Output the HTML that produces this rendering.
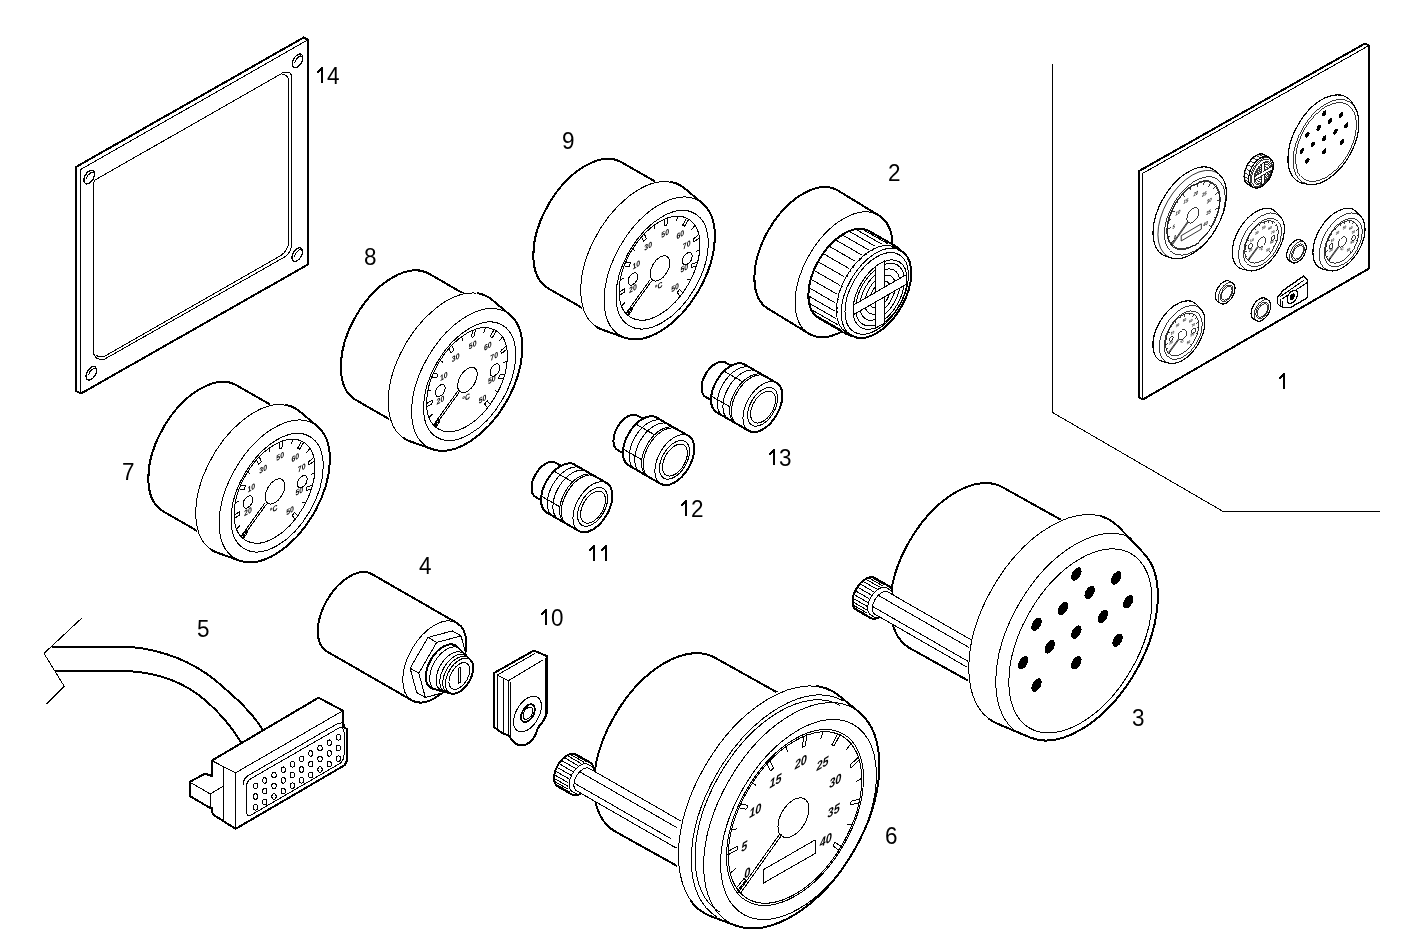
<!DOCTYPE html>
<html><head><meta charset="utf-8"><style>
html,body{margin:0;padding:0;background:#fff;}
svg{display:block;font-family:"Liberation Sans",sans-serif;}
path,circle,line,rect,ellipse{shape-rendering:crispEdges;}
text{-webkit-font-smoothing:antialiased;}
svg{will-change:transform;}
</style></head><body>
<svg width="1418" height="945" viewBox="0 0 1418 945">
<path d="M76,167 L303.8,37.4 L308,39.8 L308,264.5 L81,393.5 L76,391 Z" fill="#fff" stroke="#000" stroke-width="2" stroke-linejoin="round" vector-effect="non-scaling-stroke" />
<path d="M80.4,169.6 L308,39.8 M80.4,169.6 L80.4,393" fill="none" stroke="#000" stroke-width="1" stroke-linejoin="round" vector-effect="non-scaling-stroke" />
<path d="M93.5,352.5 L93.5,184 Q93.6,180 97.9,178.4 L281.1,73.8 Q282,72.2 284,72.2 L288.5,72.2 Q291.5,73 291.5,77 L291.5,245.4 Q291.2,252.5 283.8,257.5 L104.5,359.2 Q98,360 96,357.5 Q93.5,355 93.5,352.5 Z" fill="none" stroke="#000" stroke-width="1" stroke-linejoin="round" vector-effect="non-scaling-stroke" />
<path d="M281.1,73.8 Q287,74.5 288.6,79 L288.6,242.6 Q288,250 281.3,255.3 L104.5,356.3 Q99,357.5 96.5,355.5" fill="none" stroke="#000" stroke-width="1" stroke-linejoin="round" vector-effect="non-scaling-stroke" />
<g transform="matrix(0.87,-0.5,0,1,297.6,60.8)">
<circle cx="0" cy="0" r="6.1" fill="none" stroke="#000" stroke-width="1.3" vector-effect="non-scaling-stroke" />
<path d="M-3.1,-0.11 A5,5 0 0 1 5.93,-0.9" fill="none" stroke="#000" stroke-width="1" stroke-linecap="round" vector-effect="non-scaling-stroke"/>
</g>
<g transform="matrix(0.87,-0.5,0,1,89.2,177.1)">
<circle cx="0" cy="0" r="6.1" fill="none" stroke="#000" stroke-width="1.3" vector-effect="non-scaling-stroke" />
<path d="M-3.1,-0.11 A5,5 0 0 1 5.93,-0.9" fill="none" stroke="#000" stroke-width="1" stroke-linecap="round" vector-effect="non-scaling-stroke"/>
</g>
<g transform="matrix(0.87,-0.5,0,1,297.2,254.6)">
<circle cx="0" cy="0" r="6.1" fill="none" stroke="#000" stroke-width="1.3" vector-effect="non-scaling-stroke" />
<path d="M-3.1,-0.11 A5,5 0 0 1 5.93,-0.9" fill="none" stroke="#000" stroke-width="1" stroke-linecap="round" vector-effect="non-scaling-stroke"/>
</g>
<g transform="matrix(0.87,-0.5,0,1,91.3,373.3)">
<circle cx="0" cy="0" r="6.1" fill="none" stroke="#000" stroke-width="1.3" vector-effect="non-scaling-stroke" />
<path d="M-3.1,-0.11 A5,5 0 0 1 5.93,-0.9" fill="none" stroke="#000" stroke-width="1" stroke-linecap="round" vector-effect="non-scaling-stroke"/>
</g>
<g transform="matrix(0.87,-0.5,0,1,659.5,268.2)">
<path d="M-43.93,-128.07 A59.5,59.5 0 0 0 -128.07,-43.93 L-65.47,18.67 A59.5,59.5 0 1 0 18.67,-65.47 Z" fill="#fff" stroke="#000" stroke-width="2" stroke-linejoin="round" vector-effect="non-scaling-stroke"/>
<path d="M28.8,-65.56 A67.1,67.1 0 1 0 -65.56,28.8 L-39.96,49.48 A63.6,63.6 0 0 0 49.48,-39.96 Z" fill="#fff" stroke="#000" stroke-width="2" stroke-linejoin="round" vector-effect="non-scaling-stroke"/>
<path d="M-74.8,19.73 A67.1,67.1 0 0 1 10.15,-81.51" fill="none" stroke="#fff" stroke-width="2.6" stroke-linecap="round" vector-effect="non-scaling-stroke"/>
<path d="M-70.85,24.05 A67.1,67.1 0 0 1 10.15,-81.51" fill="none" stroke="#000" stroke-width="1" stroke-linecap="round" vector-effect="non-scaling-stroke"/>
<circle cx="0" cy="0" r="63.6" fill="none" stroke="#000" stroke-width="1" vector-effect="non-scaling-stroke" />
<circle cx="3" cy="3" r="53" fill="none" stroke="#000" stroke-width="1" vector-effect="non-scaling-stroke" />
<circle cx="0" cy="0" r="46.5" fill="none" stroke="#000" stroke-width="1" vector-effect="non-scaling-stroke" />
<line x1="-35.88" y1="29.58" x2="-30.77" y2="25.56" stroke="#000" stroke-width="1" vector-effect="non-scaling-stroke"/>
<line x1="-38.04" y1="26.74" x2="-32.81" y2="22.87" stroke="#000" stroke-width="1" vector-effect="non-scaling-stroke"/>
<line x1="-30.78" y1="25.55" x2="-32.81" y2="22.89" stroke="#000" stroke-width="1" vector-effect="non-scaling-stroke"/>
<line x1="-43.65" y1="16.02" x2="-39.43" y2="14.47" stroke="#000" stroke-width="1" vector-effect="non-scaling-stroke"/>
<line x1="-46.31" y1="4.21" x2="-39.82" y2="3.78" stroke="#000" stroke-width="1" vector-effect="non-scaling-stroke"/>
<line x1="-46.5" y1="0.65" x2="-40" y2="0.4" stroke="#000" stroke-width="1" vector-effect="non-scaling-stroke"/>
<line x1="-39.82" y1="3.76" x2="-40" y2="0.42" stroke="#000" stroke-width="1" vector-effect="non-scaling-stroke"/>
<line x1="-45.09" y1="-11.37" x2="-40.73" y2="-10.27" stroke="#000" stroke-width="1" vector-effect="non-scaling-stroke"/>
<line x1="-40.63" y1="-22.61" x2="-35.03" y2="-19.32" stroke="#000" stroke-width="1" vector-effect="non-scaling-stroke"/>
<line x1="-38.78" y1="-25.67" x2="-33.27" y2="-22.21" stroke="#000" stroke-width="1" vector-effect="non-scaling-stroke"/>
<line x1="-35.02" y1="-19.33" x2="-33.28" y2="-22.19" stroke="#000" stroke-width="1" vector-effect="non-scaling-stroke"/>
<line x1="-30.84" y1="-34.8" x2="-27.86" y2="-31.43" stroke="#000" stroke-width="1" vector-effect="non-scaling-stroke"/>
<line x1="-20.82" y1="-41.58" x2="-18.05" y2="-35.7" stroke="#000" stroke-width="1" vector-effect="non-scaling-stroke"/>
<line x1="-17.57" y1="-43.05" x2="-14.97" y2="-37.09" stroke="#000" stroke-width="1" vector-effect="non-scaling-stroke"/>
<line x1="-18.04" y1="-35.7" x2="-14.98" y2="-37.09" stroke="#000" stroke-width="1" vector-effect="non-scaling-stroke"/>
<line x1="-5.87" y1="-46.13" x2="-5.3" y2="-41.66" stroke="#000" stroke-width="1" vector-effect="non-scaling-stroke"/>
<line x1="6.23" y1="-46.08" x2="5.21" y2="-39.66" stroke="#000" stroke-width="1" vector-effect="non-scaling-stroke"/>
<line x1="9.75" y1="-45.47" x2="8.53" y2="-39.08" stroke="#000" stroke-width="1" vector-effect="non-scaling-stroke"/>
<line x1="5.22" y1="-39.66" x2="8.52" y2="-39.08" stroke="#000" stroke-width="1" vector-effect="non-scaling-stroke"/>
<line x1="21.15" y1="-41.41" x2="19.1" y2="-37.41" stroke="#000" stroke-width="1" vector-effect="non-scaling-stroke"/>
<line x1="31.11" y1="-34.56" x2="26.65" y2="-29.83" stroke="#000" stroke-width="1" vector-effect="non-scaling-stroke"/>
<line x1="33.67" y1="-32.07" x2="29.07" y2="-27.47" stroke="#000" stroke-width="1" vector-effect="non-scaling-stroke"/>
<line x1="26.66" y1="-29.82" x2="29.06" y2="-27.48" stroke="#000" stroke-width="1" vector-effect="non-scaling-stroke"/>
<line x1="40.81" y1="-22.29" x2="36.86" y2="-20.14" stroke="#000" stroke-width="1" vector-effect="non-scaling-stroke"/>
<line x1="45.18" y1="-11.01" x2="38.83" y2="-9.62" stroke="#000" stroke-width="1" vector-effect="non-scaling-stroke"/>
<line x1="45.89" y1="-7.51" x2="39.5" y2="-6.31" stroke="#000" stroke-width="1" vector-effect="non-scaling-stroke"/>
<line x1="38.83" y1="-9.61" x2="39.5" y2="-6.33" stroke="#000" stroke-width="1" vector-effect="non-scaling-stroke"/>
<line x1="46.27" y1="4.58" x2="41.8" y2="4.13" stroke="#000" stroke-width="1" vector-effect="non-scaling-stroke"/>
<line x1="43.53" y1="16.36" x2="37.5" y2="13.93" stroke="#000" stroke-width="1" vector-effect="non-scaling-stroke"/>
<line x1="42.14" y1="19.65" x2="36.19" y2="17.04" stroke="#000" stroke-width="1" vector-effect="non-scaling-stroke"/>
<line x1="37.49" y1="13.94" x2="36.19" y2="17.03" stroke="#000" stroke-width="1" vector-effect="non-scaling-stroke"/>
<line x1="35.65" y1="29.86" x2="32.2" y2="26.97" stroke="#000" stroke-width="1" vector-effect="non-scaling-stroke"/>
<line x1="26.74" y1="38.04" x2="23.13" y2="32.64" stroke="#000" stroke-width="1" vector-effect="non-scaling-stroke"/>
<line x1="23.74" y1="39.98" x2="20.29" y2="34.47" stroke="#000" stroke-width="1" vector-effect="non-scaling-stroke"/>
<line x1="23.11" y1="32.65" x2="20.3" y2="34.47" stroke="#000" stroke-width="1" vector-effect="non-scaling-stroke"/>
<text x="-26.6" y="-14.1" font-size="8px" text-anchor="middle" font-weight="bold">10</text>
<text x="-30.6" y="7.8" font-size="8px" text-anchor="middle" font-weight="bold">20</text>
<text x="-13" y="-25.9" font-size="8px" text-anchor="middle" font-weight="bold">30</text>
<text x="6.5" y="-29" font-size="8px" text-anchor="middle" font-weight="bold">50</text>
<text x="23.9" y="-19.1" font-size="8px" text-anchor="middle" font-weight="bold">60</text>
<text x="31.3" y="-5" font-size="8px" text-anchor="middle" font-weight="bold">70</text>
<text x="28.6" y="17" font-size="8px" text-anchor="middle" font-weight="bold">50</text>
<text x="17.9" y="30.9" font-size="8px" text-anchor="middle" font-weight="bold">50</text>
<text x="-0.9" y="20.3" font-size="8px" text-anchor="middle" font-weight="bold">°C</text>
<circle cx="0.5" cy="0.5" r="11.3" fill="#fff" stroke="#000" stroke-width="1" vector-effect="non-scaling-stroke" />
<circle cx="-30.6" cy="-4.5" r="5.5" fill="#fff" stroke="#000" stroke-width="1" vector-effect="non-scaling-stroke" />
<circle cx="32" cy="6.4" r="5.5" fill="#fff" stroke="#000" stroke-width="1" vector-effect="non-scaling-stroke" />
<path d="M-10.5,6 L-38,25.5 M-9,8.2 L-36.5,27.7" fill="none" stroke="#000" stroke-width="1" stroke-linejoin="round" vector-effect="non-scaling-stroke" />
</g>
<g transform="matrix(0.87,-0.5,0,1,467,379.7)">
<path d="M-43.93,-128.07 A59.5,59.5 0 0 0 -128.07,-43.93 L-65.47,18.67 A59.5,59.5 0 1 0 18.67,-65.47 Z" fill="#fff" stroke="#000" stroke-width="2" stroke-linejoin="round" vector-effect="non-scaling-stroke"/>
<path d="M28.8,-65.56 A67.1,67.1 0 1 0 -65.56,28.8 L-39.96,49.48 A63.6,63.6 0 0 0 49.48,-39.96 Z" fill="#fff" stroke="#000" stroke-width="2" stroke-linejoin="round" vector-effect="non-scaling-stroke"/>
<path d="M-74.8,19.73 A67.1,67.1 0 0 1 10.15,-81.51" fill="none" stroke="#fff" stroke-width="2.6" stroke-linecap="round" vector-effect="non-scaling-stroke"/>
<path d="M-70.85,24.05 A67.1,67.1 0 0 1 10.15,-81.51" fill="none" stroke="#000" stroke-width="1" stroke-linecap="round" vector-effect="non-scaling-stroke"/>
<circle cx="0" cy="0" r="63.6" fill="none" stroke="#000" stroke-width="1" vector-effect="non-scaling-stroke" />
<circle cx="3" cy="3" r="53" fill="none" stroke="#000" stroke-width="1" vector-effect="non-scaling-stroke" />
<circle cx="0" cy="0" r="46.5" fill="none" stroke="#000" stroke-width="1" vector-effect="non-scaling-stroke" />
<line x1="-35.88" y1="29.58" x2="-30.77" y2="25.56" stroke="#000" stroke-width="1" vector-effect="non-scaling-stroke"/>
<line x1="-38.04" y1="26.74" x2="-32.81" y2="22.87" stroke="#000" stroke-width="1" vector-effect="non-scaling-stroke"/>
<line x1="-30.78" y1="25.55" x2="-32.81" y2="22.89" stroke="#000" stroke-width="1" vector-effect="non-scaling-stroke"/>
<line x1="-43.65" y1="16.02" x2="-39.43" y2="14.47" stroke="#000" stroke-width="1" vector-effect="non-scaling-stroke"/>
<line x1="-46.31" y1="4.21" x2="-39.82" y2="3.78" stroke="#000" stroke-width="1" vector-effect="non-scaling-stroke"/>
<line x1="-46.5" y1="0.65" x2="-40" y2="0.4" stroke="#000" stroke-width="1" vector-effect="non-scaling-stroke"/>
<line x1="-39.82" y1="3.76" x2="-40" y2="0.42" stroke="#000" stroke-width="1" vector-effect="non-scaling-stroke"/>
<line x1="-45.09" y1="-11.37" x2="-40.73" y2="-10.27" stroke="#000" stroke-width="1" vector-effect="non-scaling-stroke"/>
<line x1="-40.63" y1="-22.61" x2="-35.03" y2="-19.32" stroke="#000" stroke-width="1" vector-effect="non-scaling-stroke"/>
<line x1="-38.78" y1="-25.67" x2="-33.27" y2="-22.21" stroke="#000" stroke-width="1" vector-effect="non-scaling-stroke"/>
<line x1="-35.02" y1="-19.33" x2="-33.28" y2="-22.19" stroke="#000" stroke-width="1" vector-effect="non-scaling-stroke"/>
<line x1="-30.84" y1="-34.8" x2="-27.86" y2="-31.43" stroke="#000" stroke-width="1" vector-effect="non-scaling-stroke"/>
<line x1="-20.82" y1="-41.58" x2="-18.05" y2="-35.7" stroke="#000" stroke-width="1" vector-effect="non-scaling-stroke"/>
<line x1="-17.57" y1="-43.05" x2="-14.97" y2="-37.09" stroke="#000" stroke-width="1" vector-effect="non-scaling-stroke"/>
<line x1="-18.04" y1="-35.7" x2="-14.98" y2="-37.09" stroke="#000" stroke-width="1" vector-effect="non-scaling-stroke"/>
<line x1="-5.87" y1="-46.13" x2="-5.3" y2="-41.66" stroke="#000" stroke-width="1" vector-effect="non-scaling-stroke"/>
<line x1="6.23" y1="-46.08" x2="5.21" y2="-39.66" stroke="#000" stroke-width="1" vector-effect="non-scaling-stroke"/>
<line x1="9.75" y1="-45.47" x2="8.53" y2="-39.08" stroke="#000" stroke-width="1" vector-effect="non-scaling-stroke"/>
<line x1="5.22" y1="-39.66" x2="8.52" y2="-39.08" stroke="#000" stroke-width="1" vector-effect="non-scaling-stroke"/>
<line x1="21.15" y1="-41.41" x2="19.1" y2="-37.41" stroke="#000" stroke-width="1" vector-effect="non-scaling-stroke"/>
<line x1="31.11" y1="-34.56" x2="26.65" y2="-29.83" stroke="#000" stroke-width="1" vector-effect="non-scaling-stroke"/>
<line x1="33.67" y1="-32.07" x2="29.07" y2="-27.47" stroke="#000" stroke-width="1" vector-effect="non-scaling-stroke"/>
<line x1="26.66" y1="-29.82" x2="29.06" y2="-27.48" stroke="#000" stroke-width="1" vector-effect="non-scaling-stroke"/>
<line x1="40.81" y1="-22.29" x2="36.86" y2="-20.14" stroke="#000" stroke-width="1" vector-effect="non-scaling-stroke"/>
<line x1="45.18" y1="-11.01" x2="38.83" y2="-9.62" stroke="#000" stroke-width="1" vector-effect="non-scaling-stroke"/>
<line x1="45.89" y1="-7.51" x2="39.5" y2="-6.31" stroke="#000" stroke-width="1" vector-effect="non-scaling-stroke"/>
<line x1="38.83" y1="-9.61" x2="39.5" y2="-6.33" stroke="#000" stroke-width="1" vector-effect="non-scaling-stroke"/>
<line x1="46.27" y1="4.58" x2="41.8" y2="4.13" stroke="#000" stroke-width="1" vector-effect="non-scaling-stroke"/>
<line x1="43.53" y1="16.36" x2="37.5" y2="13.93" stroke="#000" stroke-width="1" vector-effect="non-scaling-stroke"/>
<line x1="42.14" y1="19.65" x2="36.19" y2="17.04" stroke="#000" stroke-width="1" vector-effect="non-scaling-stroke"/>
<line x1="37.49" y1="13.94" x2="36.19" y2="17.03" stroke="#000" stroke-width="1" vector-effect="non-scaling-stroke"/>
<line x1="35.65" y1="29.86" x2="32.2" y2="26.97" stroke="#000" stroke-width="1" vector-effect="non-scaling-stroke"/>
<line x1="26.74" y1="38.04" x2="23.13" y2="32.64" stroke="#000" stroke-width="1" vector-effect="non-scaling-stroke"/>
<line x1="23.74" y1="39.98" x2="20.29" y2="34.47" stroke="#000" stroke-width="1" vector-effect="non-scaling-stroke"/>
<line x1="23.11" y1="32.65" x2="20.3" y2="34.47" stroke="#000" stroke-width="1" vector-effect="non-scaling-stroke"/>
<text x="-26.6" y="-14.1" font-size="8px" text-anchor="middle" font-weight="bold">10</text>
<text x="-30.6" y="7.8" font-size="8px" text-anchor="middle" font-weight="bold">20</text>
<text x="-13" y="-25.9" font-size="8px" text-anchor="middle" font-weight="bold">30</text>
<text x="6.5" y="-29" font-size="8px" text-anchor="middle" font-weight="bold">50</text>
<text x="23.9" y="-19.1" font-size="8px" text-anchor="middle" font-weight="bold">60</text>
<text x="31.3" y="-5" font-size="8px" text-anchor="middle" font-weight="bold">70</text>
<text x="28.6" y="17" font-size="8px" text-anchor="middle" font-weight="bold">50</text>
<text x="17.9" y="30.9" font-size="8px" text-anchor="middle" font-weight="bold">50</text>
<text x="-0.9" y="20.3" font-size="8px" text-anchor="middle" font-weight="bold">°C</text>
<circle cx="0.5" cy="0.5" r="11.3" fill="#fff" stroke="#000" stroke-width="1" vector-effect="non-scaling-stroke" />
<circle cx="-30.6" cy="-4.5" r="5.5" fill="#fff" stroke="#000" stroke-width="1" vector-effect="non-scaling-stroke" />
<circle cx="32" cy="6.4" r="5.5" fill="#fff" stroke="#000" stroke-width="1" vector-effect="non-scaling-stroke" />
<path d="M-10.5,6 L-38,25.5 M-9,8.2 L-36.5,27.7" fill="none" stroke="#000" stroke-width="1" stroke-linejoin="round" vector-effect="non-scaling-stroke" />
</g>
<g transform="matrix(0.87,-0.5,0,1,274.5,491.2)">
<path d="M-43.93,-128.07 A59.5,59.5 0 0 0 -128.07,-43.93 L-65.47,18.67 A59.5,59.5 0 1 0 18.67,-65.47 Z" fill="#fff" stroke="#000" stroke-width="2" stroke-linejoin="round" vector-effect="non-scaling-stroke"/>
<path d="M28.8,-65.56 A67.1,67.1 0 1 0 -65.56,28.8 L-39.96,49.48 A63.6,63.6 0 0 0 49.48,-39.96 Z" fill="#fff" stroke="#000" stroke-width="2" stroke-linejoin="round" vector-effect="non-scaling-stroke"/>
<path d="M-74.8,19.73 A67.1,67.1 0 0 1 10.15,-81.51" fill="none" stroke="#fff" stroke-width="2.6" stroke-linecap="round" vector-effect="non-scaling-stroke"/>
<path d="M-70.85,24.05 A67.1,67.1 0 0 1 10.15,-81.51" fill="none" stroke="#000" stroke-width="1" stroke-linecap="round" vector-effect="non-scaling-stroke"/>
<circle cx="0" cy="0" r="63.6" fill="none" stroke="#000" stroke-width="1" vector-effect="non-scaling-stroke" />
<circle cx="3" cy="3" r="53" fill="none" stroke="#000" stroke-width="1" vector-effect="non-scaling-stroke" />
<circle cx="0" cy="0" r="46.5" fill="none" stroke="#000" stroke-width="1" vector-effect="non-scaling-stroke" />
<line x1="-35.88" y1="29.58" x2="-30.77" y2="25.56" stroke="#000" stroke-width="1" vector-effect="non-scaling-stroke"/>
<line x1="-38.04" y1="26.74" x2="-32.81" y2="22.87" stroke="#000" stroke-width="1" vector-effect="non-scaling-stroke"/>
<line x1="-30.78" y1="25.55" x2="-32.81" y2="22.89" stroke="#000" stroke-width="1" vector-effect="non-scaling-stroke"/>
<line x1="-43.65" y1="16.02" x2="-39.43" y2="14.47" stroke="#000" stroke-width="1" vector-effect="non-scaling-stroke"/>
<line x1="-46.31" y1="4.21" x2="-39.82" y2="3.78" stroke="#000" stroke-width="1" vector-effect="non-scaling-stroke"/>
<line x1="-46.5" y1="0.65" x2="-40" y2="0.4" stroke="#000" stroke-width="1" vector-effect="non-scaling-stroke"/>
<line x1="-39.82" y1="3.76" x2="-40" y2="0.42" stroke="#000" stroke-width="1" vector-effect="non-scaling-stroke"/>
<line x1="-45.09" y1="-11.37" x2="-40.73" y2="-10.27" stroke="#000" stroke-width="1" vector-effect="non-scaling-stroke"/>
<line x1="-40.63" y1="-22.61" x2="-35.03" y2="-19.32" stroke="#000" stroke-width="1" vector-effect="non-scaling-stroke"/>
<line x1="-38.78" y1="-25.67" x2="-33.27" y2="-22.21" stroke="#000" stroke-width="1" vector-effect="non-scaling-stroke"/>
<line x1="-35.02" y1="-19.33" x2="-33.28" y2="-22.19" stroke="#000" stroke-width="1" vector-effect="non-scaling-stroke"/>
<line x1="-30.84" y1="-34.8" x2="-27.86" y2="-31.43" stroke="#000" stroke-width="1" vector-effect="non-scaling-stroke"/>
<line x1="-20.82" y1="-41.58" x2="-18.05" y2="-35.7" stroke="#000" stroke-width="1" vector-effect="non-scaling-stroke"/>
<line x1="-17.57" y1="-43.05" x2="-14.97" y2="-37.09" stroke="#000" stroke-width="1" vector-effect="non-scaling-stroke"/>
<line x1="-18.04" y1="-35.7" x2="-14.98" y2="-37.09" stroke="#000" stroke-width="1" vector-effect="non-scaling-stroke"/>
<line x1="-5.87" y1="-46.13" x2="-5.3" y2="-41.66" stroke="#000" stroke-width="1" vector-effect="non-scaling-stroke"/>
<line x1="6.23" y1="-46.08" x2="5.21" y2="-39.66" stroke="#000" stroke-width="1" vector-effect="non-scaling-stroke"/>
<line x1="9.75" y1="-45.47" x2="8.53" y2="-39.08" stroke="#000" stroke-width="1" vector-effect="non-scaling-stroke"/>
<line x1="5.22" y1="-39.66" x2="8.52" y2="-39.08" stroke="#000" stroke-width="1" vector-effect="non-scaling-stroke"/>
<line x1="21.15" y1="-41.41" x2="19.1" y2="-37.41" stroke="#000" stroke-width="1" vector-effect="non-scaling-stroke"/>
<line x1="31.11" y1="-34.56" x2="26.65" y2="-29.83" stroke="#000" stroke-width="1" vector-effect="non-scaling-stroke"/>
<line x1="33.67" y1="-32.07" x2="29.07" y2="-27.47" stroke="#000" stroke-width="1" vector-effect="non-scaling-stroke"/>
<line x1="26.66" y1="-29.82" x2="29.06" y2="-27.48" stroke="#000" stroke-width="1" vector-effect="non-scaling-stroke"/>
<line x1="40.81" y1="-22.29" x2="36.86" y2="-20.14" stroke="#000" stroke-width="1" vector-effect="non-scaling-stroke"/>
<line x1="45.18" y1="-11.01" x2="38.83" y2="-9.62" stroke="#000" stroke-width="1" vector-effect="non-scaling-stroke"/>
<line x1="45.89" y1="-7.51" x2="39.5" y2="-6.31" stroke="#000" stroke-width="1" vector-effect="non-scaling-stroke"/>
<line x1="38.83" y1="-9.61" x2="39.5" y2="-6.33" stroke="#000" stroke-width="1" vector-effect="non-scaling-stroke"/>
<line x1="46.27" y1="4.58" x2="41.8" y2="4.13" stroke="#000" stroke-width="1" vector-effect="non-scaling-stroke"/>
<line x1="43.53" y1="16.36" x2="37.5" y2="13.93" stroke="#000" stroke-width="1" vector-effect="non-scaling-stroke"/>
<line x1="42.14" y1="19.65" x2="36.19" y2="17.04" stroke="#000" stroke-width="1" vector-effect="non-scaling-stroke"/>
<line x1="37.49" y1="13.94" x2="36.19" y2="17.03" stroke="#000" stroke-width="1" vector-effect="non-scaling-stroke"/>
<line x1="35.65" y1="29.86" x2="32.2" y2="26.97" stroke="#000" stroke-width="1" vector-effect="non-scaling-stroke"/>
<line x1="26.74" y1="38.04" x2="23.13" y2="32.64" stroke="#000" stroke-width="1" vector-effect="non-scaling-stroke"/>
<line x1="23.74" y1="39.98" x2="20.29" y2="34.47" stroke="#000" stroke-width="1" vector-effect="non-scaling-stroke"/>
<line x1="23.11" y1="32.65" x2="20.3" y2="34.47" stroke="#000" stroke-width="1" vector-effect="non-scaling-stroke"/>
<text x="-26.6" y="-14.1" font-size="8px" text-anchor="middle" font-weight="bold">10</text>
<text x="-30.6" y="7.8" font-size="8px" text-anchor="middle" font-weight="bold">20</text>
<text x="-13" y="-25.9" font-size="8px" text-anchor="middle" font-weight="bold">30</text>
<text x="6.5" y="-29" font-size="8px" text-anchor="middle" font-weight="bold">50</text>
<text x="23.9" y="-19.1" font-size="8px" text-anchor="middle" font-weight="bold">60</text>
<text x="31.3" y="-5" font-size="8px" text-anchor="middle" font-weight="bold">70</text>
<text x="28.6" y="17" font-size="8px" text-anchor="middle" font-weight="bold">50</text>
<text x="17.9" y="30.9" font-size="8px" text-anchor="middle" font-weight="bold">50</text>
<text x="-0.9" y="20.3" font-size="8px" text-anchor="middle" font-weight="bold">°C</text>
<circle cx="0.5" cy="0.5" r="11.3" fill="#fff" stroke="#000" stroke-width="1" vector-effect="non-scaling-stroke" />
<circle cx="-30.6" cy="-4.5" r="5.5" fill="#fff" stroke="#000" stroke-width="1" vector-effect="non-scaling-stroke" />
<circle cx="32" cy="6.4" r="5.5" fill="#fff" stroke="#000" stroke-width="1" vector-effect="non-scaling-stroke" />
<path d="M-10.5,6 L-38,25.5 M-9,8.2 L-36.5,27.7" fill="none" stroke="#000" stroke-width="1" stroke-linejoin="round" vector-effect="non-scaling-stroke" />
</g>
<g transform="matrix(0.87,-0.5,0,1,876,293)">
<path d="M-43.62,-124.21 A56,56 0 0 0 -123.98,-46.19 L-77.18,2.01 A56,56 0 1 0 3.18,-76.01 Z" fill="#fff" stroke="#000" stroke-width="2" stroke-linejoin="round" vector-effect="non-scaling-stroke"/>
<path d="M-76.6,2.6 A56,56 0 0 1 2.6,-76.6" fill="none" stroke="#000" stroke-width="1" stroke-linecap="round" vector-effect="non-scaling-stroke"/>
<path d="M-8.01,-65.99 A41,41 0 0 0 -65.99,-8.01 L-34.99,22.99 A41,41 0 1 0 22.99,-34.99 Z" fill="#fff" stroke="#000" stroke-width="2" stroke-linejoin="round" vector-effect="non-scaling-stroke"/>
<path d="M-65.99,-8.01 A41,41 0 0 1 -8.01,-65.99" fill="none" stroke="#000" stroke-width="1" stroke-linecap="round" vector-effect="non-scaling-stroke"/>
<line x1="-65.99" y1="-8.01" x2="-34.99" y2="22.99" stroke="#000" stroke-width="1" vector-effect="non-scaling-stroke"/>
<line x1="-70.99" y1="-14.07" x2="-39.99" y2="16.93" stroke="#000" stroke-width="1" vector-effect="non-scaling-stroke"/>
<line x1="-74.74" y1="-20.98" x2="-43.74" y2="10.02" stroke="#000" stroke-width="1" vector-effect="non-scaling-stroke"/>
<line x1="-77.1" y1="-28.48" x2="-46.1" y2="2.52" stroke="#000" stroke-width="1" vector-effect="non-scaling-stroke"/>
<line x1="-77.99" y1="-36.28" x2="-46.99" y2="-5.28" stroke="#000" stroke-width="1" vector-effect="non-scaling-stroke"/>
<line x1="-77.38" y1="-44.12" x2="-46.38" y2="-13.12" stroke="#000" stroke-width="1" vector-effect="non-scaling-stroke"/>
<line x1="-75.28" y1="-51.69" x2="-44.28" y2="-20.69" stroke="#000" stroke-width="1" vector-effect="non-scaling-stroke"/>
<line x1="-71.77" y1="-58.73" x2="-40.77" y2="-27.73" stroke="#000" stroke-width="1" vector-effect="non-scaling-stroke"/>
<line x1="-66.99" y1="-64.96" x2="-35.99" y2="-33.96" stroke="#000" stroke-width="1" vector-effect="non-scaling-stroke"/>
<line x1="-61.1" y1="-70.17" x2="-30.1" y2="-39.17" stroke="#000" stroke-width="1" vector-effect="non-scaling-stroke"/>
<line x1="-54.33" y1="-74.16" x2="-23.33" y2="-43.16" stroke="#000" stroke-width="1" vector-effect="non-scaling-stroke"/>
<line x1="-46.92" y1="-76.78" x2="-15.92" y2="-45.78" stroke="#000" stroke-width="1" vector-effect="non-scaling-stroke"/>
<line x1="-39.15" y1="-77.94" x2="-8.15" y2="-46.94" stroke="#000" stroke-width="1" vector-effect="non-scaling-stroke"/>
<line x1="-31.29" y1="-77.6" x2="-0.29" y2="-46.6" stroke="#000" stroke-width="1" vector-effect="non-scaling-stroke"/>
<line x1="-23.65" y1="-75.77" x2="7.35" y2="-44.77" stroke="#000" stroke-width="1" vector-effect="non-scaling-stroke"/>
<line x1="-16.5" y1="-72.51" x2="14.5" y2="-41.51" stroke="#000" stroke-width="1" vector-effect="non-scaling-stroke"/>
<line x1="-10.1" y1="-67.94" x2="20.9" y2="-36.94" stroke="#000" stroke-width="1" vector-effect="non-scaling-stroke"/>
<path d="M22.28,-34.28 A40,40 0 0 0 -34.28,22.28 L-28.28,28.28 A40,40 0 1 0 28.28,-28.28 Z" fill="#fff" stroke="#000" stroke-width="2" stroke-linejoin="round" vector-effect="non-scaling-stroke"/>
<path d="M-36.64,19.71 A40,40 0 0 1 16.94,-38.77" fill="none" stroke="#fff" stroke-width="2.6" stroke-linecap="round" vector-effect="non-scaling-stroke"/>
<path d="M-34.28,22.28 A40,40 0 0 1 22.28,-34.28" fill="none" stroke="#000" stroke-width="1" stroke-linecap="round" vector-effect="non-scaling-stroke"/>
<circle cx="0" cy="0" r="40" fill="none" stroke="#000" stroke-width="1" vector-effect="non-scaling-stroke" />
<circle cx="0.8" cy="0.8" r="36.5" fill="none" stroke="#000" stroke-width="1" vector-effect="non-scaling-stroke" />
<circle cx="4.6" cy="3.9" r="31" fill="none" stroke="#000" stroke-width="1" vector-effect="non-scaling-stroke" />
<circle cx="4.6" cy="3.9" r="12" fill="none" stroke="#000" stroke-width="1" vector-effect="non-scaling-stroke" />
<circle cx="4.6" cy="3.9" r="17.5" fill="none" stroke="#000" stroke-width="1" vector-effect="non-scaling-stroke" />
<circle cx="4.6" cy="3.9" r="23" fill="none" stroke="#000" stroke-width="1" vector-effect="non-scaling-stroke" />
<circle cx="4.6" cy="3.9" r="28" fill="none" stroke="#000" stroke-width="1" vector-effect="non-scaling-stroke" />
<rect x="-0.2" y="-27.1" width="9.6" height="62" fill="#fff" stroke="#000" stroke-width="1" vector-effect="non-scaling-stroke"/>
<rect x="-26.4" y="-0.9" width="62" height="9.6" fill="#fff" stroke="#000" stroke-width="1" vector-effect="non-scaling-stroke"/>
<rect x="0.4" y="-0.3" width="8.4" height="8.4" fill="#fff" stroke="none"/>
</g>
<g transform="matrix(0.87,-0.5,0,1,592.6,506.9)">
<path d="M-42.54,-65.46 A16.2,16.2 0 0 0 -65.46,-42.54 L-48.26,-25.34 A16.2,16.2 0 1 0 -25.34,-48.26 Z" fill="#fff" stroke="#000" stroke-width="2" stroke-linejoin="round" vector-effect="non-scaling-stroke"/>
<path d="M-20.82,-52.78 A22.6,22.6 0 0 0 -52.78,-20.82 L-15.98,15.98 A22.6,22.6 0 1 0 15.98,-15.98 Z" fill="#fff" stroke="#000" stroke-width="2" stroke-linejoin="round" vector-effect="non-scaling-stroke"/>
<path d="M-52.78,-20.82 A22.6,22.6 0 0 1 -20.82,-52.78" fill="none" stroke="#000" stroke-width="1" stroke-linecap="round" vector-effect="non-scaling-stroke"/>
<path d="M-45.58,-13.62 A22.6,22.6 0 0 1 -13.62,-45.58" fill="none" stroke="#000" stroke-width="1" stroke-linecap="round" vector-effect="non-scaling-stroke"/>
<path d="M-39.18,-7.22 A22.6,22.6 0 0 1 -7.22,-39.18" fill="none" stroke="#000" stroke-width="1" stroke-linecap="round" vector-effect="non-scaling-stroke"/>
<path d="M-31.38,0.58 A22.6,22.6 0 0 1 0.58,-31.38" fill="none" stroke="#000" stroke-width="1" stroke-linecap="round" vector-effect="non-scaling-stroke"/>
<path d="M-29.38,2.58 A22.6,22.6 0 0 1 2.58,-29.38" fill="none" stroke="#000" stroke-width="1" stroke-linecap="round" vector-effect="non-scaling-stroke"/>
<line x1="-44.53" y1="-58.04" x2="-23.13" y2="-36.64" stroke="#000" stroke-width="1" vector-effect="non-scaling-stroke"/>
<line x1="-59.12" y1="-40.34" x2="-37.72" y2="-18.94" stroke="#000" stroke-width="1" vector-effect="non-scaling-stroke"/>
<circle cx="0" cy="0" r="22.6" fill="none" stroke="#000" stroke-width="1" vector-effect="non-scaling-stroke" />
<circle cx="0" cy="0" r="17.3" fill="none" stroke="#000" stroke-width="1" vector-effect="non-scaling-stroke" />
<circle cx="0.5" cy="0.5" r="14.3" fill="none" stroke="#000" stroke-width="1" vector-effect="non-scaling-stroke" />
</g>
<g transform="matrix(0.87,-0.5,0,1,674.5,459.8)">
<path d="M-42.54,-65.46 A16.2,16.2 0 0 0 -65.46,-42.54 L-48.26,-25.34 A16.2,16.2 0 1 0 -25.34,-48.26 Z" fill="#fff" stroke="#000" stroke-width="2" stroke-linejoin="round" vector-effect="non-scaling-stroke"/>
<path d="M-20.82,-52.78 A22.6,22.6 0 0 0 -52.78,-20.82 L-15.98,15.98 A22.6,22.6 0 1 0 15.98,-15.98 Z" fill="#fff" stroke="#000" stroke-width="2" stroke-linejoin="round" vector-effect="non-scaling-stroke"/>
<path d="M-52.78,-20.82 A22.6,22.6 0 0 1 -20.82,-52.78" fill="none" stroke="#000" stroke-width="1" stroke-linecap="round" vector-effect="non-scaling-stroke"/>
<path d="M-45.58,-13.62 A22.6,22.6 0 0 1 -13.62,-45.58" fill="none" stroke="#000" stroke-width="1" stroke-linecap="round" vector-effect="non-scaling-stroke"/>
<path d="M-39.18,-7.22 A22.6,22.6 0 0 1 -7.22,-39.18" fill="none" stroke="#000" stroke-width="1" stroke-linecap="round" vector-effect="non-scaling-stroke"/>
<path d="M-31.38,0.58 A22.6,22.6 0 0 1 0.58,-31.38" fill="none" stroke="#000" stroke-width="1" stroke-linecap="round" vector-effect="non-scaling-stroke"/>
<path d="M-29.38,2.58 A22.6,22.6 0 0 1 2.58,-29.38" fill="none" stroke="#000" stroke-width="1" stroke-linecap="round" vector-effect="non-scaling-stroke"/>
<line x1="-44.53" y1="-58.04" x2="-23.13" y2="-36.64" stroke="#000" stroke-width="1" vector-effect="non-scaling-stroke"/>
<line x1="-59.12" y1="-40.34" x2="-37.72" y2="-18.94" stroke="#000" stroke-width="1" vector-effect="non-scaling-stroke"/>
<circle cx="0" cy="0" r="22.6" fill="none" stroke="#000" stroke-width="1" vector-effect="non-scaling-stroke" />
<circle cx="0" cy="0" r="17.3" fill="none" stroke="#000" stroke-width="1" vector-effect="non-scaling-stroke" />
<circle cx="0.5" cy="0.5" r="14.3" fill="none" stroke="#000" stroke-width="1" vector-effect="non-scaling-stroke" />
</g>
<g transform="matrix(0.87,-0.5,0,1,762.6,406.8)">
<path d="M-42.54,-65.46 A16.2,16.2 0 0 0 -65.46,-42.54 L-48.26,-25.34 A16.2,16.2 0 1 0 -25.34,-48.26 Z" fill="#fff" stroke="#000" stroke-width="2" stroke-linejoin="round" vector-effect="non-scaling-stroke"/>
<path d="M-20.82,-52.78 A22.6,22.6 0 0 0 -52.78,-20.82 L-15.98,15.98 A22.6,22.6 0 1 0 15.98,-15.98 Z" fill="#fff" stroke="#000" stroke-width="2" stroke-linejoin="round" vector-effect="non-scaling-stroke"/>
<path d="M-52.78,-20.82 A22.6,22.6 0 0 1 -20.82,-52.78" fill="none" stroke="#000" stroke-width="1" stroke-linecap="round" vector-effect="non-scaling-stroke"/>
<path d="M-45.58,-13.62 A22.6,22.6 0 0 1 -13.62,-45.58" fill="none" stroke="#000" stroke-width="1" stroke-linecap="round" vector-effect="non-scaling-stroke"/>
<path d="M-39.18,-7.22 A22.6,22.6 0 0 1 -7.22,-39.18" fill="none" stroke="#000" stroke-width="1" stroke-linecap="round" vector-effect="non-scaling-stroke"/>
<path d="M-31.38,0.58 A22.6,22.6 0 0 1 0.58,-31.38" fill="none" stroke="#000" stroke-width="1" stroke-linecap="round" vector-effect="non-scaling-stroke"/>
<path d="M-29.38,2.58 A22.6,22.6 0 0 1 2.58,-29.38" fill="none" stroke="#000" stroke-width="1" stroke-linecap="round" vector-effect="non-scaling-stroke"/>
<line x1="-44.53" y1="-58.04" x2="-23.13" y2="-36.64" stroke="#000" stroke-width="1" vector-effect="non-scaling-stroke"/>
<line x1="-59.12" y1="-40.34" x2="-37.72" y2="-18.94" stroke="#000" stroke-width="1" vector-effect="non-scaling-stroke"/>
<circle cx="0" cy="0" r="22.6" fill="none" stroke="#000" stroke-width="1" vector-effect="non-scaling-stroke" />
<circle cx="0" cy="0" r="17.3" fill="none" stroke="#000" stroke-width="1" vector-effect="non-scaling-stroke" />
<circle cx="0.5" cy="0.5" r="14.3" fill="none" stroke="#000" stroke-width="1" vector-effect="non-scaling-stroke" />
</g>
<g transform="matrix(0.87,-0.5,0,1,1080.4,640.9)">
<path d="M-90.06,-198.98 A75.75,75.75 0 0 0 -196.34,-91.02 L-86.44,17.18 A75.75,75.75 0 1 0 19.84,-90.78 Z" fill="#fff" stroke="#000" stroke-width="2" stroke-linejoin="round" vector-effect="non-scaling-stroke"/>
</g>
<g transform="matrix(0.87,-0.5,0,1,865.6,594)">
<path d="M10.61,-10.61 A15,15 0 0 0 -10.61,10.61 L5.39,26.61 A15,15 0 1 0 26.61,5.39 Z" fill="#fff" stroke="#000" stroke-width="2" stroke-linejoin="round" vector-effect="non-scaling-stroke"/>
<line x1="-11.49" y1="9.64" x2="4.51" y2="25.64" stroke="#000" stroke-width="1" vector-effect="non-scaling-stroke"/>
<line x1="-13.37" y1="6.81" x2="2.63" y2="22.81" stroke="#000" stroke-width="1" vector-effect="non-scaling-stroke"/>
<line x1="-14.55" y1="3.63" x2="1.45" y2="19.63" stroke="#000" stroke-width="1" vector-effect="non-scaling-stroke"/>
<line x1="-15" y1="0.26" x2="1" y2="16.26" stroke="#000" stroke-width="1" vector-effect="non-scaling-stroke"/>
<line x1="-14.67" y1="-3.12" x2="1.33" y2="12.88" stroke="#000" stroke-width="1" vector-effect="non-scaling-stroke"/>
<line x1="-13.59" y1="-6.34" x2="2.41" y2="9.66" stroke="#000" stroke-width="1" vector-effect="non-scaling-stroke"/>
<line x1="-11.82" y1="-9.23" x2="4.18" y2="6.77" stroke="#000" stroke-width="1" vector-effect="non-scaling-stroke"/>
<line x1="-9.44" y1="-11.66" x2="6.56" y2="4.34" stroke="#000" stroke-width="1" vector-effect="non-scaling-stroke"/>
<line x1="-6.58" y1="-13.48" x2="9.42" y2="2.52" stroke="#000" stroke-width="1" vector-effect="non-scaling-stroke"/>
<line x1="-3.37" y1="-14.62" x2="12.63" y2="1.38" stroke="#000" stroke-width="1" vector-effect="non-scaling-stroke"/>
<line x1="-0" y1="-15" x2="16" y2="1" stroke="#000" stroke-width="1" vector-effect="non-scaling-stroke"/>
<line x1="3.37" y1="-14.62" x2="19.37" y2="1.38" stroke="#000" stroke-width="1" vector-effect="non-scaling-stroke"/>
<line x1="6.58" y1="-13.48" x2="22.58" y2="2.52" stroke="#000" stroke-width="1" vector-effect="non-scaling-stroke"/>
<line x1="9.44" y1="-11.66" x2="25.44" y2="4.34" stroke="#000" stroke-width="1" vector-effect="non-scaling-stroke"/>
<path d="M24.05,5.95 A12.8,12.8 0 0 0 5.95,24.05 L9.45,27.55 A12.8,12.8 0 1 0 27.55,9.45 Z" fill="#fff" stroke="#000" stroke-width="1" stroke-linejoin="round" vector-effect="non-scaling-stroke"/>
<path d="M25.42,10.58 A10.5,10.5 0 0 0 10.58,25.42 L122.58,137.42 A10.5,10.5 0 1 0 137.42,122.58 Z" fill="#fff" stroke="#000" stroke-width="1" stroke-linejoin="round" vector-effect="non-scaling-stroke"/>
<line x1="14.17" y1="8.22" x2="126.17" y2="120.22" stroke="#000" stroke-width="1" vector-effect="non-scaling-stroke"/>
<line x1="7.67" y1="16.14" x2="119.67" y2="128.14" stroke="#000" stroke-width="1" vector-effect="non-scaling-stroke"/>
</g>
<g transform="matrix(0.87,-0.5,0,1,1080.4,640.9)">
<path d="M44.33,-91.56 A95,95 0 1 0 -95.52,34.99 L-58.29,67.26 A89,89 0 0 0 72.73,-51.3 Z" fill="#fff" stroke="#000" stroke-width="2" stroke-linejoin="round" vector-effect="non-scaling-stroke"/>
<path d="M-106.07,24.26 A95,95 0 0 1 21.19,-114.62" fill="none" stroke="#fff" stroke-width="2.6" stroke-linecap="round" vector-effect="non-scaling-stroke"/>
<path d="M-100.48,30.38 A95,95 0 0 1 33.88,-103.98" fill="none" stroke="#000" stroke-width="1" stroke-linecap="round" vector-effect="non-scaling-stroke"/>
<path d="M-70.98,56.78 A91.9,91.9 0 0 1 58.98,-73.18" fill="none" stroke="#000" stroke-width="1" stroke-linecap="round" vector-effect="non-scaling-stroke"/>
<circle cx="0" cy="0" r="82.3" fill="none" stroke="#000" stroke-width="1" vector-effect="non-scaling-stroke" />
<circle cx="-4.62" cy="-69.11" r="6" fill="#000" stroke="none" stroke-width="0" vector-effect="non-scaling-stroke" />
<circle cx="41.11" cy="-42.35" r="6" fill="#000" stroke="none" stroke-width="0" vector-effect="non-scaling-stroke" />
<circle cx="10.62" cy="-42.99" r="6" fill="#000" stroke="none" stroke-width="0" vector-effect="non-scaling-stroke" />
<circle cx="54.97" cy="-11.62" r="6" fill="#000" stroke="none" stroke-width="0" vector-effect="non-scaling-stroke" />
<circle cx="-19.98" cy="-42.49" r="6" fill="#000" stroke="none" stroke-width="0" vector-effect="non-scaling-stroke" />
<circle cx="25.87" cy="-11.57" r="6" fill="#000" stroke="none" stroke-width="0" vector-effect="non-scaling-stroke" />
<circle cx="-50.46" cy="-41.83" r="6" fill="#000" stroke="none" stroke-width="0" vector-effect="non-scaling-stroke" />
<circle cx="-4.62" cy="-11.01" r="6" fill="#000" stroke="none" stroke-width="0" vector-effect="non-scaling-stroke" />
<circle cx="42.73" cy="20.66" r="6" fill="#000" stroke="none" stroke-width="0" vector-effect="non-scaling-stroke" />
<circle cx="-35.22" cy="-11.71" r="6" fill="#000" stroke="none" stroke-width="0" vector-effect="non-scaling-stroke" />
<circle cx="-65.7" cy="-11.05" r="6" fill="#000" stroke="none" stroke-width="0" vector-effect="non-scaling-stroke" />
<circle cx="-4.62" cy="19.49" r="6" fill="#000" stroke="none" stroke-width="0" vector-effect="non-scaling-stroke" />
<circle cx="-50.46" cy="18.97" r="6" fill="#000" stroke="none" stroke-width="0" vector-effect="non-scaling-stroke" />
</g>
<g transform="matrix(0.87,-0.5,0,1,434.5,661.7)">
<path d="M-71.79,-123.41 A36.5,36.5 0 0 0 -123.41,-71.79 L-25.81,25.81 A36.5,36.5 0 1 0 25.81,-25.81 Z" fill="#fff" stroke="#000" stroke-width="2" stroke-linejoin="round" vector-effect="non-scaling-stroke"/>
<circle cx="0" cy="0" r="36.5" fill="none" stroke="#000" stroke-width="1" vector-effect="non-scaling-stroke" />
<path d="M-28.01,-7.51 L-7.51,-28.01 L20.51,-20.51 L30.51,-10.51 L38.01,17.51 L17.51,38.01 L-10.51,30.51 L-20.51,20.51 Z" fill="#fff" stroke="#000" stroke-width="1" stroke-linejoin="round" vector-effect="non-scaling-stroke" />
<path d="M38.01,17.51 L17.51,38.01 L-10.51,30.51 L-18.01,2.49 L2.49,-18.01 L30.51,-10.51 Z" fill="none" stroke="#000" stroke-width="1" stroke-linejoin="round" vector-effect="non-scaling-stroke" />
<line x1="-20.51" y1="20.51" x2="-10.51" y2="30.51" stroke="#000" stroke-width="1" vector-effect="non-scaling-stroke"/>
<line x1="-28.01" y1="-7.51" x2="-18.01" y2="2.49" stroke="#000" stroke-width="1" vector-effect="non-scaling-stroke"/>
<line x1="-7.51" y1="-28.01" x2="2.49" y2="-18.01" stroke="#000" stroke-width="1" vector-effect="non-scaling-stroke"/>
<line x1="20.51" y1="-20.51" x2="30.51" y2="-10.51" stroke="#000" stroke-width="1" vector-effect="non-scaling-stroke"/>
<path d="M26.13,-1.83 A20,20 0 1 0 -1.83,26.13 L19.14,41.5 A16,16 0 0 0 41.5,19.14 Z" fill="#fff" stroke="#000" stroke-width="2" stroke-linejoin="round" vector-effect="non-scaling-stroke"/>
<path d="M0.21,27.79 A19.5,19.5 0 0 1 27.79,0.21" fill="none" stroke="#000" stroke-width="1" stroke-linecap="round" vector-effect="non-scaling-stroke"/>
<path d="M6.63,31.37 A17.5,17.5 0 0 1 31.37,6.63" fill="none" stroke="#000" stroke-width="1" stroke-linecap="round" vector-effect="non-scaling-stroke"/>
<path d="M10.98,35.02 A17,17 0 0 1 35.02,10.98" fill="none" stroke="#000" stroke-width="1" stroke-linecap="round" vector-effect="non-scaling-stroke"/>
<path d="M14.33,37.67 A16.5,16.5 0 0 1 37.67,14.33" fill="none" stroke="#000" stroke-width="1" stroke-linecap="round" vector-effect="non-scaling-stroke"/>
<circle cx="28.6" cy="28.6" r="16" fill="none" stroke="#000" stroke-width="1" vector-effect="non-scaling-stroke" />
<circle cx="28.6" cy="28.6" r="12" fill="none" stroke="#000" stroke-width="1" vector-effect="non-scaling-stroke" />
<rect x="27.1" y="20.6" width="3" height="15" fill="none" stroke="#000" stroke-width="1" vector-effect="non-scaling-stroke"/>
</g>
<g transform="translate(0,0) scale(1)">
<path d="M493.7,673.2 L533.9,650.5 L547.3,656.3 L547.3,711 Q545,720 540.9,723.9 Q537,728 536.2,733.2 Q533,740 529.3,742.5 Q525,746 520,745.4 Q515,744 513,741.3 Q510,737 508.3,735.5 Q505,734 502.5,733.2 L494.3,727.4 Z" fill="#fff" stroke="#000" stroke-width="2" stroke-linejoin="round" vector-effect="non-scaling-stroke" />
<path d="M497.2,675 L535,653.4 M508.3,680.8 L543.2,659.8 M497.2,675 L508.3,680.8 M497.2,675 L497.2,728 M503.6,678 L503.6,732 M508.3,680.8 L508.3,736 M510.5,682 L510.5,738 M545,658 L545,713" fill="none" stroke="#000" stroke-width="1" stroke-linejoin="round" vector-effect="non-scaling-stroke" />
<g transform="matrix(0.87,-0.5,0,1,527.5,714)">
<circle cx="0" cy="0" r="16" fill="none" stroke="#000" stroke-width="1" vector-effect="non-scaling-stroke" />
<circle cx="0.5" cy="-0.5" r="8" fill="none" stroke="#000" stroke-width="1.8" vector-effect="non-scaling-stroke" />
<circle cx="0.5" cy="-0.5" r="5.5" fill="none" stroke="#000" stroke-width="1" vector-effect="non-scaling-stroke" />
</g>
</g>
<path d="M51.6,647 L131.6,647 C160,650 190,660 215,680 C235,697 252,712 262.5,729.6" fill="none" stroke="#000" stroke-width="2" stroke-linejoin="round" vector-effect="non-scaling-stroke" />
<path d="M55.4,670.6 L129.1,671.1 C160,673 185,683 205,700 C220,713 232,727 240.9,742.3" fill="none" stroke="#000" stroke-width="2" stroke-linejoin="round" vector-effect="non-scaling-stroke" />
<path d="M82.1,617.8 L44,653.4 L64.3,686.4 L46.5,704.2" fill="none" stroke="#000" stroke-width="1" stroke-linejoin="round" vector-effect="non-scaling-stroke" />
<path d="M211.8,760.6 L318.5,697.7 L343,710.7 L343,726.8 L346.9,729 L346.9,760.6 L344.6,765.2 L235.6,828.8 L212.6,814.3 L212,808 L210.3,808.1 L189.6,795.9 L189.6,782 L205,773.6 L211.8,775.9 Z" fill="#fff" stroke="#000" stroke-width="2" stroke-linejoin="round" vector-effect="non-scaling-stroke" />
<path d="M211.8,760.6 L235.6,772.8 L343,710.7 M235.6,772.8 L235.6,828.8 M223.4,767 L223.4,821.5 M189.6,782 L210.3,794 L210.3,808.1 M210.3,794 L223.4,786" fill="none" stroke="#000" stroke-width="1" stroke-linejoin="round" vector-effect="non-scaling-stroke" />
<path d="M246.4,787 Q246.4,781 252,778 L338,728.5 Q344,726 344,732 L344,755 Q344,761 339,764 L252,814.5 Q246.4,817.5 246.4,811 Z" fill="none" stroke="#000" stroke-width="1" stroke-linejoin="round" vector-effect="non-scaling-stroke" />
<path d="M243,785 Q243,778 250,774.5 L336,724.5 Q345,720 345,728" fill="none" stroke="#000" stroke-width="1" stroke-linejoin="round" vector-effect="non-scaling-stroke" />
<ellipse cx="255.6" cy="785.9" rx="2.2" ry="2.8" fill="none" stroke="#000" stroke-width="1"/>
<ellipse cx="264.8" cy="780.5" rx="2.2" ry="2.8" fill="none" stroke="#000" stroke-width="1"/>
<ellipse cx="274" cy="775.1" rx="2.2" ry="2.8" fill="none" stroke="#000" stroke-width="1"/>
<ellipse cx="283.2" cy="769.7" rx="2.2" ry="2.8" fill="none" stroke="#000" stroke-width="1"/>
<ellipse cx="292.4" cy="764.3" rx="2.2" ry="2.8" fill="none" stroke="#000" stroke-width="1"/>
<ellipse cx="301.6" cy="758.9" rx="2.2" ry="2.8" fill="none" stroke="#000" stroke-width="1"/>
<ellipse cx="310.8" cy="753.5" rx="2.2" ry="2.8" fill="none" stroke="#000" stroke-width="1"/>
<ellipse cx="320" cy="748.1" rx="2.2" ry="2.8" fill="none" stroke="#000" stroke-width="1"/>
<ellipse cx="329.2" cy="742.7" rx="2.2" ry="2.8" fill="none" stroke="#000" stroke-width="1"/>
<ellipse cx="338.4" cy="737.3" rx="2.2" ry="2.8" fill="none" stroke="#000" stroke-width="1"/>
<ellipse cx="255.6" cy="796.6" rx="2.2" ry="2.8" fill="none" stroke="#000" stroke-width="1"/>
<ellipse cx="264.8" cy="791.2" rx="2.2" ry="2.8" fill="none" stroke="#000" stroke-width="1"/>
<ellipse cx="274" cy="785.8" rx="2.2" ry="2.8" fill="none" stroke="#000" stroke-width="1"/>
<ellipse cx="283.2" cy="780.4" rx="2.2" ry="2.8" fill="none" stroke="#000" stroke-width="1"/>
<ellipse cx="292.4" cy="775" rx="2.2" ry="2.8" fill="none" stroke="#000" stroke-width="1"/>
<ellipse cx="301.6" cy="769.6" rx="2.2" ry="2.8" fill="none" stroke="#000" stroke-width="1"/>
<ellipse cx="310.8" cy="764.2" rx="2.2" ry="2.8" fill="none" stroke="#000" stroke-width="1"/>
<ellipse cx="320" cy="758.8" rx="2.2" ry="2.8" fill="none" stroke="#000" stroke-width="1"/>
<ellipse cx="329.2" cy="753.4" rx="2.2" ry="2.8" fill="none" stroke="#000" stroke-width="1"/>
<ellipse cx="338.4" cy="748" rx="2.2" ry="2.8" fill="none" stroke="#000" stroke-width="1"/>
<ellipse cx="255.6" cy="807.3" rx="2.2" ry="2.8" fill="none" stroke="#000" stroke-width="1"/>
<ellipse cx="264.8" cy="801.9" rx="2.2" ry="2.8" fill="none" stroke="#000" stroke-width="1"/>
<ellipse cx="274" cy="796.5" rx="2.2" ry="2.8" fill="none" stroke="#000" stroke-width="1"/>
<ellipse cx="283.2" cy="791.1" rx="2.2" ry="2.8" fill="none" stroke="#000" stroke-width="1"/>
<ellipse cx="292.4" cy="785.7" rx="2.2" ry="2.8" fill="none" stroke="#000" stroke-width="1"/>
<ellipse cx="301.6" cy="780.3" rx="2.2" ry="2.8" fill="none" stroke="#000" stroke-width="1"/>
<ellipse cx="310.8" cy="774.9" rx="2.2" ry="2.8" fill="none" stroke="#000" stroke-width="1"/>
<ellipse cx="320" cy="769.5" rx="2.2" ry="2.8" fill="none" stroke="#000" stroke-width="1"/>
<ellipse cx="329.2" cy="764.1" rx="2.2" ry="2.8" fill="none" stroke="#000" stroke-width="1"/>
<ellipse cx="338.4" cy="758.7" rx="2.2" ry="2.8" fill="none" stroke="#000" stroke-width="1"/>
<g transform="matrix(0.87,-0.5,0,1,795,817.5)">
<path d="M-92.87,-206.6 A81.7,81.7 0 0 0 -207.53,-90.2 L-87.33,28.2 A81.7,81.7 0 1 0 27.33,-88.2 Z" fill="#fff" stroke="#000" stroke-width="2" stroke-linejoin="round" vector-effect="non-scaling-stroke"/>
</g>
<g transform="matrix(0.87,-0.5,0,1,567.1,770.5)">
<path d="M10.61,-10.61 A15,15 0 0 0 -10.61,10.61 L5.39,26.61 A15,15 0 1 0 26.61,5.39 Z" fill="#fff" stroke="#000" stroke-width="2" stroke-linejoin="round" vector-effect="non-scaling-stroke"/>
<line x1="-11.49" y1="9.64" x2="4.51" y2="25.64" stroke="#000" stroke-width="1" vector-effect="non-scaling-stroke"/>
<line x1="-13.37" y1="6.81" x2="2.63" y2="22.81" stroke="#000" stroke-width="1" vector-effect="non-scaling-stroke"/>
<line x1="-14.55" y1="3.63" x2="1.45" y2="19.63" stroke="#000" stroke-width="1" vector-effect="non-scaling-stroke"/>
<line x1="-15" y1="0.26" x2="1" y2="16.26" stroke="#000" stroke-width="1" vector-effect="non-scaling-stroke"/>
<line x1="-14.67" y1="-3.12" x2="1.33" y2="12.88" stroke="#000" stroke-width="1" vector-effect="non-scaling-stroke"/>
<line x1="-13.59" y1="-6.34" x2="2.41" y2="9.66" stroke="#000" stroke-width="1" vector-effect="non-scaling-stroke"/>
<line x1="-11.82" y1="-9.23" x2="4.18" y2="6.77" stroke="#000" stroke-width="1" vector-effect="non-scaling-stroke"/>
<line x1="-9.44" y1="-11.66" x2="6.56" y2="4.34" stroke="#000" stroke-width="1" vector-effect="non-scaling-stroke"/>
<line x1="-6.58" y1="-13.48" x2="9.42" y2="2.52" stroke="#000" stroke-width="1" vector-effect="non-scaling-stroke"/>
<line x1="-3.37" y1="-14.62" x2="12.63" y2="1.38" stroke="#000" stroke-width="1" vector-effect="non-scaling-stroke"/>
<line x1="-0" y1="-15" x2="16" y2="1" stroke="#000" stroke-width="1" vector-effect="non-scaling-stroke"/>
<line x1="3.37" y1="-14.62" x2="19.37" y2="1.38" stroke="#000" stroke-width="1" vector-effect="non-scaling-stroke"/>
<line x1="6.58" y1="-13.48" x2="22.58" y2="2.52" stroke="#000" stroke-width="1" vector-effect="non-scaling-stroke"/>
<line x1="9.44" y1="-11.66" x2="25.44" y2="4.34" stroke="#000" stroke-width="1" vector-effect="non-scaling-stroke"/>
<path d="M24.05,5.95 A12.8,12.8 0 0 0 5.95,24.05 L9.45,27.55 A12.8,12.8 0 1 0 27.55,9.45 Z" fill="#fff" stroke="#000" stroke-width="1" stroke-linejoin="round" vector-effect="non-scaling-stroke"/>
<path d="M25.42,10.58 A10.5,10.5 0 0 0 10.58,25.42 L122.58,137.42 A10.5,10.5 0 1 0 137.42,122.58 Z" fill="#fff" stroke="#000" stroke-width="1" stroke-linejoin="round" vector-effect="non-scaling-stroke"/>
<line x1="14.17" y1="8.22" x2="126.17" y2="120.22" stroke="#000" stroke-width="1" vector-effect="non-scaling-stroke"/>
<line x1="7.67" y1="16.14" x2="119.67" y2="128.14" stroke="#000" stroke-width="1" vector-effect="non-scaling-stroke"/>
</g>
<g transform="matrix(0.87,-0.5,0,1,795,817.5)">
<path d="M50.59,-96.52 A104.5,104.5 0 1 0 -96.52,50.59 L-68.3,73.89 A101,101 0 0 0 73.89,-68.3 Z" fill="#fff" stroke="#000" stroke-width="2" stroke-linejoin="round" vector-effect="non-scaling-stroke"/>
<path d="M-120.5,22.25 A104.5,104.5 0 0 1 22.25,-120.5" fill="none" stroke="#fff" stroke-width="2.6" stroke-linecap="round" vector-effect="non-scaling-stroke"/>
<path d="M-103.89,43.89 A104.5,104.5 0 0 1 43.89,-103.89" fill="none" stroke="#000" stroke-width="1" stroke-linecap="round" vector-effect="non-scaling-stroke"/>
<path d="M-90.12,54.12 A102,102 0 0 1 54.12,-90.12" fill="none" stroke="#000" stroke-width="1" stroke-linecap="round" vector-effect="non-scaling-stroke"/>
<path d="M-86.94,50.94 A97.5,97.5 0 0 1 50.94,-86.94" fill="none" stroke="#000" stroke-width="1" stroke-linecap="round" vector-effect="non-scaling-stroke"/>
<path d="M-75.42,67.42 A101,101 0 0 1 67.42,-75.42" fill="none" stroke="#000" stroke-width="1" stroke-linecap="round" vector-effect="non-scaling-stroke"/>
<circle cx="4" cy="4" r="89.5" fill="none" stroke="#000" stroke-width="1" vector-effect="non-scaling-stroke" />
<circle cx="0" cy="0" r="78.7" fill="none" stroke="#000" stroke-width="1" vector-effect="non-scaling-stroke" />
<circle cx="0" cy="0" r="76.7" fill="none" stroke="#000" stroke-width="1" vector-effect="non-scaling-stroke" />
<line x1="-66.22" y1="40.26" x2="-56.7" y2="34.74" stroke="#000" stroke-width="1" vector-effect="non-scaling-stroke"/>
<line x1="-67.98" y1="37.22" x2="-58.44" y2="31.74" stroke="#000" stroke-width="1" vector-effect="non-scaling-stroke"/>
<line x1="-56.7" y1="34.75" x2="-58.44" y2="31.73" stroke="#000" stroke-width="1" vector-effect="non-scaling-stroke"/>
<line x1="-74.45" y1="18.43" x2="-67.95" y2="16.82" stroke="#000" stroke-width="1" vector-effect="non-scaling-stroke"/>
<line x1="-77.49" y1="-1.22" x2="-66.49" y2="-0.82" stroke="#000" stroke-width="1" vector-effect="non-scaling-stroke"/>
<line x1="-77.36" y1="-4.73" x2="-66.36" y2="-4.29" stroke="#000" stroke-width="1" vector-effect="non-scaling-stroke"/>
<line x1="-66.5" y1="-0.81" x2="-66.36" y2="-4.29" stroke="#000" stroke-width="1" vector-effect="non-scaling-stroke"/>
<line x1="-72.82" y1="-24.08" x2="-66.46" y2="-21.98" stroke="#000" stroke-width="1" vector-effect="non-scaling-stroke"/>
<line x1="-64.92" y1="-42.32" x2="-55.83" y2="-36.13" stroke="#000" stroke-width="1" vector-effect="non-scaling-stroke"/>
<line x1="-62.94" y1="-45.22" x2="-53.87" y2="-38.99" stroke="#000" stroke-width="1" vector-effect="non-scaling-stroke"/>
<line x1="-55.83" y1="-36.12" x2="-53.87" y2="-38.99" stroke="#000" stroke-width="1" vector-effect="non-scaling-stroke"/>
<line x1="-48.79" y1="-59.18" x2="-44.53" y2="-54.01" stroke="#000" stroke-width="1" vector-effect="non-scaling-stroke"/>
<line x1="-32.38" y1="-70.41" x2="-27.99" y2="-60.32" stroke="#000" stroke-width="1" vector-effect="non-scaling-stroke"/>
<line x1="-29.16" y1="-71.81" x2="-24.81" y2="-61.7" stroke="#000" stroke-width="1" vector-effect="non-scaling-stroke"/>
<line x1="-28" y1="-60.32" x2="-24.8" y2="-61.7" stroke="#000" stroke-width="1" vector-effect="non-scaling-stroke"/>
<line x1="-9.75" y1="-76.08" x2="-8.89" y2="-69.43" stroke="#000" stroke-width="1" vector-effect="non-scaling-stroke"/>
<line x1="10.12" y1="-76.84" x2="8.46" y2="-65.96" stroke="#000" stroke-width="1" vector-effect="non-scaling-stroke"/>
<line x1="13.59" y1="-76.3" x2="11.88" y2="-65.43" stroke="#000" stroke-width="1" vector-effect="non-scaling-stroke"/>
<line x1="8.45" y1="-65.96" x2="11.89" y2="-65.43" stroke="#000" stroke-width="1" vector-effect="non-scaling-stroke"/>
<line x1="32.29" y1="-69.57" x2="29.47" y2="-63.49" stroke="#000" stroke-width="1" vector-effect="non-scaling-stroke"/>
<line x1="49.5" y1="-59.63" x2="42.3" y2="-51.31" stroke="#000" stroke-width="1" vector-effect="non-scaling-stroke"/>
<line x1="52.16" y1="-57.32" x2="44.92" y2="-49.03" stroke="#000" stroke-width="1" vector-effect="non-scaling-stroke"/>
<line x1="42.3" y1="-51.31" x2="44.93" y2="-49.03" stroke="#000" stroke-width="1" vector-effect="non-scaling-stroke"/>
<line x1="64.4" y1="-41.66" x2="58.77" y2="-38.02" stroke="#000" stroke-width="1" vector-effect="non-scaling-stroke"/>
<line x1="73.66" y1="-24.08" x2="63.14" y2="-20.87" stroke="#000" stroke-width="1" vector-effect="non-scaling-stroke"/>
<line x1="74.68" y1="-20.71" x2="64.14" y2="-17.55" stroke="#000" stroke-width="1" vector-effect="non-scaling-stroke"/>
<line x1="63.14" y1="-20.88" x2="64.14" y2="-17.55" stroke="#000" stroke-width="1" vector-effect="non-scaling-stroke"/>
<line x1="76.69" y1="-0.94" x2="69.99" y2="-0.86" stroke="#000" stroke-width="1" vector-effect="non-scaling-stroke"/>
<line x1="75.17" y1="18.88" x2="64.55" y2="15.98" stroke="#000" stroke-width="1" vector-effect="non-scaling-stroke"/>
<line x1="74.23" y1="22.27" x2="63.63" y2="19.33" stroke="#000" stroke-width="1" vector-effect="non-scaling-stroke"/>
<line x1="64.55" y1="15.98" x2="63.63" y2="19.33" stroke="#000" stroke-width="1" vector-effect="non-scaling-stroke"/>
<line x1="65.4" y1="40.08" x2="59.68" y2="36.57" stroke="#000" stroke-width="1" vector-effect="non-scaling-stroke"/>
<line x1="53.54" y1="56.03" x2="46.11" y2="47.92" stroke="#000" stroke-width="1" vector-effect="non-scaling-stroke"/>
<line x1="50.95" y1="58.4" x2="43.54" y2="50.26" stroke="#000" stroke-width="1" vector-effect="non-scaling-stroke"/>
<line x1="46.11" y1="47.92" x2="43.54" y2="50.26" stroke="#000" stroke-width="1" vector-effect="non-scaling-stroke"/>
<text x="-54.73" y="32.23" font-size="12.5px" text-anchor="middle" font-style="italic" font-weight="bold">0</text>
<text x="-58.31" y="3.84" font-size="12.5px" text-anchor="middle" font-style="italic" font-weight="bold">5</text>
<text x="-45.73" y="-25.66" font-size="12.5px" text-anchor="middle" font-style="italic" font-weight="bold">10</text>
<text x="-22.29" y="-43.64" font-size="12.5px" text-anchor="middle" font-style="italic" font-weight="bold">15</text>
<text x="6.58" y="-47.91" font-size="12.5px" text-anchor="middle" font-style="italic" font-weight="bold">20</text>
<text x="31.76" y="-33.82" font-size="12.5px" text-anchor="middle" font-style="italic" font-weight="bold">25</text>
<text x="46.19" y="-9.41" font-size="12.5px" text-anchor="middle" font-style="italic" font-weight="bold">30</text>
<text x="44.46" y="19.43" font-size="12.5px" text-anchor="middle" font-style="italic" font-weight="bold">35</text>
<text x="35.45" y="44.53" font-size="12.5px" text-anchor="middle" font-style="italic" font-weight="bold">40</text>
<circle cx="-1.8" cy="-0.7" r="17.8" fill="#fff" stroke="#000" stroke-width="1" vector-effect="non-scaling-stroke" />
<path d="M-36.1,34 L23.1,34 L23.1,47.5 L-36.1,47.5 Z" fill="none" stroke="#000" stroke-width="1" stroke-linejoin="round" vector-effect="non-scaling-stroke" />
<path d="M-17.4,7.6 L-65.8,42.8 M-14.9,9.6 L-63.3,44.8" fill="none" stroke="#000" stroke-width="1" stroke-linejoin="round" vector-effect="non-scaling-stroke" />
</g>
<path d="M1052.6,64 L1052.6,412.5 L1222.8,511.3 L1379.7,511.3" fill="none" stroke="#000" stroke-width="1" stroke-linejoin="round" vector-effect="non-scaling-stroke" />
<path d="M1138.9,171.1 L1365,43.5 L1369,45.5 L1369,268.5 L1143,399.4 L1138.9,397.5 Z" fill="#fff" stroke="#000" stroke-width="2" stroke-linejoin="round" vector-effect="non-scaling-stroke" />
<path d="M1142.8,173.3 L1369,45.5 M1142.8,173.3 L1142.8,399" fill="none" stroke="#000" stroke-width="1" stroke-linejoin="round" vector-effect="non-scaling-stroke" />
<g transform="matrix(0.37,-0.21,0,0.43,1326,142)">
<path d="M73.11,-52.74 A93,93 0 1 0 -59.44,67.77 L-47.32,75.38 A89,89 0 0 0 79.53,-39.94 Z" fill="#fff" stroke="#000" stroke-width="1.2" stroke-linejoin="round" vector-effect="non-scaling-stroke"/>
<circle cx="0" cy="0" r="89" fill="none" stroke="#000" stroke-width="0.8" vector-effect="non-scaling-stroke" />
<circle cx="0" cy="0" r="82.3" fill="none" stroke="#000" stroke-width="0.8" vector-effect="non-scaling-stroke" />
<circle cx="-4.62" cy="-69.11" r="6" fill="#000" stroke="none" stroke-width="0" vector-effect="non-scaling-stroke" />
<circle cx="41.11" cy="-42.35" r="6" fill="#000" stroke="none" stroke-width="0" vector-effect="non-scaling-stroke" />
<circle cx="10.62" cy="-42.99" r="6" fill="#000" stroke="none" stroke-width="0" vector-effect="non-scaling-stroke" />
<circle cx="54.97" cy="-11.62" r="6" fill="#000" stroke="none" stroke-width="0" vector-effect="non-scaling-stroke" />
<circle cx="-19.98" cy="-42.49" r="6" fill="#000" stroke="none" stroke-width="0" vector-effect="non-scaling-stroke" />
<circle cx="25.87" cy="-11.57" r="6" fill="#000" stroke="none" stroke-width="0" vector-effect="non-scaling-stroke" />
<circle cx="-50.46" cy="-41.83" r="6" fill="#000" stroke="none" stroke-width="0" vector-effect="non-scaling-stroke" />
<circle cx="-4.62" cy="-11.01" r="6" fill="#000" stroke="none" stroke-width="0" vector-effect="non-scaling-stroke" />
<circle cx="42.73" cy="20.66" r="6" fill="#000" stroke="none" stroke-width="0" vector-effect="non-scaling-stroke" />
<circle cx="-35.22" cy="-11.71" r="6" fill="#000" stroke="none" stroke-width="0" vector-effect="non-scaling-stroke" />
<circle cx="-65.7" cy="-11.05" r="6" fill="#000" stroke="none" stroke-width="0" vector-effect="non-scaling-stroke" />
<circle cx="-4.62" cy="19.49" r="6" fill="#000" stroke="none" stroke-width="0" vector-effect="non-scaling-stroke" />
<circle cx="-50.46" cy="18.97" r="6" fill="#000" stroke="none" stroke-width="0" vector-effect="non-scaling-stroke" />
</g>
<g transform="matrix(0.29,-0.17,0,0.34,1261.7,172.8)">
<path d="M8.99,-48.99 A41,41 0 0 0 -48.99,8.99 L-34.99,22.99 A41,41 0 1 0 22.99,-34.99 Z" fill="#fff" stroke="#000" stroke-width="1.2" stroke-linejoin="round" vector-effect="non-scaling-stroke"/>
<path d="M-48.99,8.99 A41,41 0 0 1 8.99,-48.99" fill="none" stroke="#000" stroke-width="0.8" stroke-linecap="round" vector-effect="non-scaling-stroke"/>
<line x1="-48.99" y1="8.99" x2="-34.99" y2="22.99" stroke="#000" stroke-width="0.8" vector-effect="non-scaling-stroke"/>
<line x1="-55.51" y1="0.5" x2="-41.51" y2="14.5" stroke="#000" stroke-width="0.8" vector-effect="non-scaling-stroke"/>
<line x1="-59.6" y1="-9.39" x2="-45.6" y2="4.61" stroke="#000" stroke-width="0.8" vector-effect="non-scaling-stroke"/>
<line x1="-61" y1="-20" x2="-47" y2="-6" stroke="#000" stroke-width="0.8" vector-effect="non-scaling-stroke"/>
<line x1="-59.6" y1="-30.61" x2="-45.6" y2="-16.61" stroke="#000" stroke-width="0.8" vector-effect="non-scaling-stroke"/>
<line x1="-55.51" y1="-40.5" x2="-41.51" y2="-26.5" stroke="#000" stroke-width="0.8" vector-effect="non-scaling-stroke"/>
<line x1="-48.99" y1="-48.99" x2="-34.99" y2="-34.99" stroke="#000" stroke-width="0.8" vector-effect="non-scaling-stroke"/>
<line x1="-40.5" y1="-55.51" x2="-26.5" y2="-41.51" stroke="#000" stroke-width="0.8" vector-effect="non-scaling-stroke"/>
<line x1="-30.61" y1="-59.6" x2="-16.61" y2="-45.6" stroke="#000" stroke-width="0.8" vector-effect="non-scaling-stroke"/>
<line x1="-20" y1="-61" x2="-6" y2="-47" stroke="#000" stroke-width="0.8" vector-effect="non-scaling-stroke"/>
<line x1="-9.39" y1="-59.6" x2="4.61" y2="-45.6" stroke="#000" stroke-width="0.8" vector-effect="non-scaling-stroke"/>
<line x1="0.5" y1="-55.51" x2="14.5" y2="-41.51" stroke="#000" stroke-width="0.8" vector-effect="non-scaling-stroke"/>
<line x1="8.99" y1="-48.99" x2="22.99" y2="-34.99" stroke="#000" stroke-width="0.8" vector-effect="non-scaling-stroke"/>
<path d="M22.28,-34.28 A40,40 0 0 0 -34.28,22.28 L-28.28,28.28 A40,40 0 1 0 28.28,-28.28 Z" fill="#fff" stroke="#000" stroke-width="1.2" stroke-linejoin="round" vector-effect="non-scaling-stroke"/>
<circle cx="0" cy="0" r="40" fill="none" stroke="#000" stroke-width="0.8" vector-effect="non-scaling-stroke" />
<circle cx="0.8" cy="0.8" r="36.5" fill="none" stroke="#000" stroke-width="0.8" vector-effect="non-scaling-stroke" />
<circle cx="4.6" cy="3.9" r="31" fill="none" stroke="#000" stroke-width="0.8" vector-effect="non-scaling-stroke" />
<circle cx="4.6" cy="3.9" r="12" fill="none" stroke="#000" stroke-width="0.8" vector-effect="non-scaling-stroke" />
<circle cx="4.6" cy="3.9" r="17.5" fill="none" stroke="#000" stroke-width="0.8" vector-effect="non-scaling-stroke" />
<circle cx="4.6" cy="3.9" r="23" fill="none" stroke="#000" stroke-width="0.8" vector-effect="non-scaling-stroke" />
<circle cx="4.6" cy="3.9" r="28" fill="none" stroke="#000" stroke-width="0.8" vector-effect="non-scaling-stroke" />
<rect x="-0.2" y="-27.1" width="9.6" height="62" fill="#fff" stroke="#000" stroke-width="0.8" vector-effect="non-scaling-stroke"/>
<rect x="-26.4" y="-0.9" width="62" height="9.6" fill="#fff" stroke="#000" stroke-width="0.8" vector-effect="non-scaling-stroke"/>
<rect x="0.4" y="-0.3" width="8.4" height="8.4" fill="#fff" stroke="none"/>
</g>
<g transform="matrix(0.34,-0.2,0,0.39,1193.5,215.2)">
<path d="M64.91,-79.74 A103,103 0 1 0 -79.74,64.91 L-66.5,75.34 A101,101 0 0 0 75.34,-66.5 Z" fill="#fff" stroke="#000" stroke-width="1.2" stroke-linejoin="round" vector-effect="non-scaling-stroke"/>
<path d="M-75.42,67.42 A101,101 0 0 1 67.42,-75.42" fill="none" stroke="#000" stroke-width="0.8" stroke-linecap="round" vector-effect="non-scaling-stroke"/>
<circle cx="4" cy="4" r="89.5" fill="none" stroke="#000" stroke-width="0.8" vector-effect="non-scaling-stroke" />
<circle cx="0" cy="0" r="78.7" fill="none" stroke="#000" stroke-width="0.8" vector-effect="non-scaling-stroke" />
<circle cx="0" cy="0" r="76.7" fill="none" stroke="#000" stroke-width="0.8" vector-effect="non-scaling-stroke" />
<line x1="-66.42" y1="38.35" x2="-58.02" y2="33.5" stroke="#000" stroke-width="0.8" vector-effect="non-scaling-stroke"/>
<line x1="-74.45" y1="18.43" x2="-67.95" y2="16.82" stroke="#000" stroke-width="0.8" vector-effect="non-scaling-stroke"/>
<line x1="-76.64" y1="-2.94" x2="-66.95" y2="-2.57" stroke="#000" stroke-width="0.8" vector-effect="non-scaling-stroke"/>
<line x1="-72.82" y1="-24.08" x2="-66.46" y2="-21.98" stroke="#000" stroke-width="0.8" vector-effect="non-scaling-stroke"/>
<line x1="-63.29" y1="-43.33" x2="-55.28" y2="-37.85" stroke="#000" stroke-width="0.8" vector-effect="non-scaling-stroke"/>
<line x1="-48.79" y1="-59.18" x2="-44.53" y2="-54.01" stroke="#000" stroke-width="0.8" vector-effect="non-scaling-stroke"/>
<line x1="-30.46" y1="-70.39" x2="-26.61" y2="-61.49" stroke="#000" stroke-width="0.8" vector-effect="non-scaling-stroke"/>
<line x1="-9.75" y1="-76.08" x2="-8.89" y2="-69.43" stroke="#000" stroke-width="0.8" vector-effect="non-scaling-stroke"/>
<line x1="11.73" y1="-75.8" x2="10.25" y2="-66.21" stroke="#000" stroke-width="0.8" vector-effect="non-scaling-stroke"/>
<line x1="32.29" y1="-69.57" x2="29.47" y2="-63.49" stroke="#000" stroke-width="0.8" vector-effect="non-scaling-stroke"/>
<line x1="50.32" y1="-57.89" x2="43.96" y2="-50.57" stroke="#000" stroke-width="0.8" vector-effect="non-scaling-stroke"/>
<line x1="64.4" y1="-41.66" x2="58.77" y2="-38.02" stroke="#000" stroke-width="0.8" vector-effect="non-scaling-stroke"/>
<line x1="73.43" y1="-22.17" x2="64.14" y2="-19.37" stroke="#000" stroke-width="0.8" vector-effect="non-scaling-stroke"/>
<line x1="76.69" y1="-0.94" x2="69.99" y2="-0.86" stroke="#000" stroke-width="0.8" vector-effect="non-scaling-stroke"/>
<line x1="73.95" y1="20.37" x2="64.59" y2="17.79" stroke="#000" stroke-width="0.8" vector-effect="non-scaling-stroke"/>
<line x1="65.4" y1="40.08" x2="59.68" y2="36.57" stroke="#000" stroke-width="0.8" vector-effect="non-scaling-stroke"/>
<line x1="51.72" y1="56.64" x2="45.18" y2="49.48" stroke="#000" stroke-width="0.8" vector-effect="non-scaling-stroke"/>
<text x="-54.73" y="32.23" font-size="12.5px" text-anchor="middle" font-style="italic" font-weight="bold">0</text>
<text x="-58.31" y="3.84" font-size="12.5px" text-anchor="middle" font-style="italic" font-weight="bold">5</text>
<text x="-45.73" y="-25.66" font-size="12.5px" text-anchor="middle" font-style="italic" font-weight="bold">10</text>
<text x="-22.29" y="-43.64" font-size="12.5px" text-anchor="middle" font-style="italic" font-weight="bold">15</text>
<text x="6.58" y="-47.91" font-size="12.5px" text-anchor="middle" font-style="italic" font-weight="bold">20</text>
<text x="31.76" y="-33.82" font-size="12.5px" text-anchor="middle" font-style="italic" font-weight="bold">25</text>
<text x="46.19" y="-9.41" font-size="12.5px" text-anchor="middle" font-style="italic" font-weight="bold">30</text>
<text x="44.46" y="19.43" font-size="12.5px" text-anchor="middle" font-style="italic" font-weight="bold">35</text>
<text x="35.45" y="44.53" font-size="12.5px" text-anchor="middle" font-style="italic" font-weight="bold">40</text>
<circle cx="-1.8" cy="-0.7" r="17.8" fill="#fff" stroke="#000" stroke-width="0.8" vector-effect="non-scaling-stroke" />
<path d="M-36.1,34 L23.1,34 L23.1,47.5 L-36.1,47.5 Z" fill="none" stroke="#000" stroke-width="0.8" stroke-linejoin="round" vector-effect="non-scaling-stroke" />
<path d="M-17.4,7.6 L-65.8,42.8 M-14.9,9.6 L-63.3,44.8" fill="none" stroke="#000" stroke-width="0.8" stroke-linejoin="round" vector-effect="non-scaling-stroke" />
</g>
<g transform="matrix(0.36,-0.2,0,0.41,1261.5,241.9)">
<path d="M41.09,-52.31 A67.1,67.1 0 1 0 -52.31,41.09 L-36.31,52.21 A63.6,63.6 0 0 0 52.21,-36.31 Z" fill="#fff" stroke="#000" stroke-width="1.2" stroke-linejoin="round" vector-effect="non-scaling-stroke"/>
<circle cx="0" cy="0" r="63.6" fill="none" stroke="#000" stroke-width="0.8" vector-effect="non-scaling-stroke" />
<circle cx="3" cy="3" r="53" fill="none" stroke="#000" stroke-width="0.8" vector-effect="non-scaling-stroke" />
<circle cx="0" cy="0" r="46.5" fill="none" stroke="#000" stroke-width="0.8" vector-effect="non-scaling-stroke" />
<line x1="-36.99" y1="28.18" x2="-32.22" y2="24.54" stroke="#000" stroke-width="0.8" vector-effect="non-scaling-stroke"/>
<line x1="-43.65" y1="16.02" x2="-39.43" y2="14.47" stroke="#000" stroke-width="0.8" vector-effect="non-scaling-stroke"/>
<line x1="-46.44" y1="2.43" x2="-40.44" y2="2.12" stroke="#000" stroke-width="0.8" vector-effect="non-scaling-stroke"/>
<line x1="-45.09" y1="-11.37" x2="-40.73" y2="-10.27" stroke="#000" stroke-width="0.8" vector-effect="non-scaling-stroke"/>
<line x1="-39.73" y1="-24.16" x2="-34.61" y2="-21.04" stroke="#000" stroke-width="0.8" vector-effect="non-scaling-stroke"/>
<line x1="-30.84" y1="-34.8" x2="-27.86" y2="-31.43" stroke="#000" stroke-width="0.8" vector-effect="non-scaling-stroke"/>
<line x1="-19.21" y1="-42.35" x2="-16.73" y2="-36.88" stroke="#000" stroke-width="0.8" vector-effect="non-scaling-stroke"/>
<line x1="-5.87" y1="-46.13" x2="-5.3" y2="-41.66" stroke="#000" stroke-width="0.8" vector-effect="non-scaling-stroke"/>
<line x1="7.99" y1="-45.81" x2="6.96" y2="-39.9" stroke="#000" stroke-width="0.8" vector-effect="non-scaling-stroke"/>
<line x1="21.15" y1="-41.41" x2="19.1" y2="-37.41" stroke="#000" stroke-width="0.8" vector-effect="non-scaling-stroke"/>
<line x1="32.42" y1="-33.34" x2="28.24" y2="-29.03" stroke="#000" stroke-width="0.8" vector-effect="non-scaling-stroke"/>
<line x1="40.81" y1="-22.29" x2="36.86" y2="-20.14" stroke="#000" stroke-width="0.8" vector-effect="non-scaling-stroke"/>
<line x1="45.57" y1="-9.27" x2="39.69" y2="-8.07" stroke="#000" stroke-width="0.8" vector-effect="non-scaling-stroke"/>
<line x1="46.27" y1="4.58" x2="41.8" y2="4.13" stroke="#000" stroke-width="0.8" vector-effect="non-scaling-stroke"/>
<line x1="42.87" y1="18.02" x2="37.34" y2="15.69" stroke="#000" stroke-width="0.8" vector-effect="non-scaling-stroke"/>
<line x1="35.65" y1="29.86" x2="32.2" y2="26.97" stroke="#000" stroke-width="0.8" vector-effect="non-scaling-stroke"/>
<line x1="25.26" y1="39.04" x2="22" y2="34" stroke="#000" stroke-width="0.8" vector-effect="non-scaling-stroke"/>
<text x="-26.6" y="-14.1" font-size="9px" text-anchor="middle" font-weight="bold">10</text>
<text x="-30.6" y="7.8" font-size="9px" text-anchor="middle" font-weight="bold">20</text>
<text x="-13" y="-25.9" font-size="9px" text-anchor="middle" font-weight="bold">30</text>
<text x="6.5" y="-29" font-size="9px" text-anchor="middle" font-weight="bold">50</text>
<text x="23.9" y="-19.1" font-size="9px" text-anchor="middle" font-weight="bold">60</text>
<text x="31.3" y="-5" font-size="9px" text-anchor="middle" font-weight="bold">70</text>
<text x="28.6" y="17" font-size="9px" text-anchor="middle" font-weight="bold">50</text>
<text x="17.9" y="30.9" font-size="9px" text-anchor="middle" font-weight="bold">50</text>
<text x="-0.9" y="20.3" font-size="9px" text-anchor="middle" font-weight="bold">°C</text>
<circle cx="0.5" cy="0.5" r="11.3" fill="#fff" stroke="#000" stroke-width="0.8" vector-effect="non-scaling-stroke" />
<circle cx="-30.6" cy="-4.5" r="5.5" fill="#fff" stroke="#000" stroke-width="0.8" vector-effect="non-scaling-stroke" />
<circle cx="32" cy="6.4" r="5.5" fill="#fff" stroke="#000" stroke-width="0.8" vector-effect="non-scaling-stroke" />
<path d="M-10.5,6 L-38,25.5 M-9,8.2 L-36.5,27.7" fill="none" stroke="#000" stroke-width="0.8" stroke-linejoin="round" vector-effect="non-scaling-stroke" />
</g>
<g transform="matrix(0.36,-0.2,0,0.41,1342.1,241.9)">
<path d="M41.09,-52.31 A67.1,67.1 0 1 0 -52.31,41.09 L-36.31,52.21 A63.6,63.6 0 0 0 52.21,-36.31 Z" fill="#fff" stroke="#000" stroke-width="1.2" stroke-linejoin="round" vector-effect="non-scaling-stroke"/>
<circle cx="0" cy="0" r="63.6" fill="none" stroke="#000" stroke-width="0.8" vector-effect="non-scaling-stroke" />
<circle cx="3" cy="3" r="53" fill="none" stroke="#000" stroke-width="0.8" vector-effect="non-scaling-stroke" />
<circle cx="0" cy="0" r="46.5" fill="none" stroke="#000" stroke-width="0.8" vector-effect="non-scaling-stroke" />
<line x1="-36.99" y1="28.18" x2="-32.22" y2="24.54" stroke="#000" stroke-width="0.8" vector-effect="non-scaling-stroke"/>
<line x1="-43.65" y1="16.02" x2="-39.43" y2="14.47" stroke="#000" stroke-width="0.8" vector-effect="non-scaling-stroke"/>
<line x1="-46.44" y1="2.43" x2="-40.44" y2="2.12" stroke="#000" stroke-width="0.8" vector-effect="non-scaling-stroke"/>
<line x1="-45.09" y1="-11.37" x2="-40.73" y2="-10.27" stroke="#000" stroke-width="0.8" vector-effect="non-scaling-stroke"/>
<line x1="-39.73" y1="-24.16" x2="-34.61" y2="-21.04" stroke="#000" stroke-width="0.8" vector-effect="non-scaling-stroke"/>
<line x1="-30.84" y1="-34.8" x2="-27.86" y2="-31.43" stroke="#000" stroke-width="0.8" vector-effect="non-scaling-stroke"/>
<line x1="-19.21" y1="-42.35" x2="-16.73" y2="-36.88" stroke="#000" stroke-width="0.8" vector-effect="non-scaling-stroke"/>
<line x1="-5.87" y1="-46.13" x2="-5.3" y2="-41.66" stroke="#000" stroke-width="0.8" vector-effect="non-scaling-stroke"/>
<line x1="7.99" y1="-45.81" x2="6.96" y2="-39.9" stroke="#000" stroke-width="0.8" vector-effect="non-scaling-stroke"/>
<line x1="21.15" y1="-41.41" x2="19.1" y2="-37.41" stroke="#000" stroke-width="0.8" vector-effect="non-scaling-stroke"/>
<line x1="32.42" y1="-33.34" x2="28.24" y2="-29.03" stroke="#000" stroke-width="0.8" vector-effect="non-scaling-stroke"/>
<line x1="40.81" y1="-22.29" x2="36.86" y2="-20.14" stroke="#000" stroke-width="0.8" vector-effect="non-scaling-stroke"/>
<line x1="45.57" y1="-9.27" x2="39.69" y2="-8.07" stroke="#000" stroke-width="0.8" vector-effect="non-scaling-stroke"/>
<line x1="46.27" y1="4.58" x2="41.8" y2="4.13" stroke="#000" stroke-width="0.8" vector-effect="non-scaling-stroke"/>
<line x1="42.87" y1="18.02" x2="37.34" y2="15.69" stroke="#000" stroke-width="0.8" vector-effect="non-scaling-stroke"/>
<line x1="35.65" y1="29.86" x2="32.2" y2="26.97" stroke="#000" stroke-width="0.8" vector-effect="non-scaling-stroke"/>
<line x1="25.26" y1="39.04" x2="22" y2="34" stroke="#000" stroke-width="0.8" vector-effect="non-scaling-stroke"/>
<text x="-26.6" y="-14.1" font-size="9px" text-anchor="middle" font-weight="bold">10</text>
<text x="-30.6" y="7.8" font-size="9px" text-anchor="middle" font-weight="bold">20</text>
<text x="-13" y="-25.9" font-size="9px" text-anchor="middle" font-weight="bold">30</text>
<text x="6.5" y="-29" font-size="9px" text-anchor="middle" font-weight="bold">50</text>
<text x="23.9" y="-19.1" font-size="9px" text-anchor="middle" font-weight="bold">60</text>
<text x="31.3" y="-5" font-size="9px" text-anchor="middle" font-weight="bold">70</text>
<text x="28.6" y="17" font-size="9px" text-anchor="middle" font-weight="bold">50</text>
<text x="17.9" y="30.9" font-size="9px" text-anchor="middle" font-weight="bold">50</text>
<text x="-0.9" y="20.3" font-size="9px" text-anchor="middle" font-weight="bold">°C</text>
<circle cx="0.5" cy="0.5" r="11.3" fill="#fff" stroke="#000" stroke-width="0.8" vector-effect="non-scaling-stroke" />
<circle cx="-30.6" cy="-4.5" r="5.5" fill="#fff" stroke="#000" stroke-width="0.8" vector-effect="non-scaling-stroke" />
<circle cx="32" cy="6.4" r="5.5" fill="#fff" stroke="#000" stroke-width="0.8" vector-effect="non-scaling-stroke" />
<path d="M-10.5,6 L-38,25.5 M-9,8.2 L-36.5,27.7" fill="none" stroke="#000" stroke-width="0.8" stroke-linejoin="round" vector-effect="non-scaling-stroke" />
</g>
<g transform="matrix(0.36,-0.2,0,0.41,1182.1,334.5)">
<path d="M41.09,-52.31 A67.1,67.1 0 1 0 -52.31,41.09 L-36.31,52.21 A63.6,63.6 0 0 0 52.21,-36.31 Z" fill="#fff" stroke="#000" stroke-width="1.2" stroke-linejoin="round" vector-effect="non-scaling-stroke"/>
<circle cx="0" cy="0" r="63.6" fill="none" stroke="#000" stroke-width="0.8" vector-effect="non-scaling-stroke" />
<circle cx="3" cy="3" r="53" fill="none" stroke="#000" stroke-width="0.8" vector-effect="non-scaling-stroke" />
<circle cx="0" cy="0" r="46.5" fill="none" stroke="#000" stroke-width="0.8" vector-effect="non-scaling-stroke" />
<line x1="-36.99" y1="28.18" x2="-32.22" y2="24.54" stroke="#000" stroke-width="0.8" vector-effect="non-scaling-stroke"/>
<line x1="-43.65" y1="16.02" x2="-39.43" y2="14.47" stroke="#000" stroke-width="0.8" vector-effect="non-scaling-stroke"/>
<line x1="-46.44" y1="2.43" x2="-40.44" y2="2.12" stroke="#000" stroke-width="0.8" vector-effect="non-scaling-stroke"/>
<line x1="-45.09" y1="-11.37" x2="-40.73" y2="-10.27" stroke="#000" stroke-width="0.8" vector-effect="non-scaling-stroke"/>
<line x1="-39.73" y1="-24.16" x2="-34.61" y2="-21.04" stroke="#000" stroke-width="0.8" vector-effect="non-scaling-stroke"/>
<line x1="-30.84" y1="-34.8" x2="-27.86" y2="-31.43" stroke="#000" stroke-width="0.8" vector-effect="non-scaling-stroke"/>
<line x1="-19.21" y1="-42.35" x2="-16.73" y2="-36.88" stroke="#000" stroke-width="0.8" vector-effect="non-scaling-stroke"/>
<line x1="-5.87" y1="-46.13" x2="-5.3" y2="-41.66" stroke="#000" stroke-width="0.8" vector-effect="non-scaling-stroke"/>
<line x1="7.99" y1="-45.81" x2="6.96" y2="-39.9" stroke="#000" stroke-width="0.8" vector-effect="non-scaling-stroke"/>
<line x1="21.15" y1="-41.41" x2="19.1" y2="-37.41" stroke="#000" stroke-width="0.8" vector-effect="non-scaling-stroke"/>
<line x1="32.42" y1="-33.34" x2="28.24" y2="-29.03" stroke="#000" stroke-width="0.8" vector-effect="non-scaling-stroke"/>
<line x1="40.81" y1="-22.29" x2="36.86" y2="-20.14" stroke="#000" stroke-width="0.8" vector-effect="non-scaling-stroke"/>
<line x1="45.57" y1="-9.27" x2="39.69" y2="-8.07" stroke="#000" stroke-width="0.8" vector-effect="non-scaling-stroke"/>
<line x1="46.27" y1="4.58" x2="41.8" y2="4.13" stroke="#000" stroke-width="0.8" vector-effect="non-scaling-stroke"/>
<line x1="42.87" y1="18.02" x2="37.34" y2="15.69" stroke="#000" stroke-width="0.8" vector-effect="non-scaling-stroke"/>
<line x1="35.65" y1="29.86" x2="32.2" y2="26.97" stroke="#000" stroke-width="0.8" vector-effect="non-scaling-stroke"/>
<line x1="25.26" y1="39.04" x2="22" y2="34" stroke="#000" stroke-width="0.8" vector-effect="non-scaling-stroke"/>
<text x="-26.6" y="-14.1" font-size="9px" text-anchor="middle" font-weight="bold">10</text>
<text x="-30.6" y="7.8" font-size="9px" text-anchor="middle" font-weight="bold">20</text>
<text x="-13" y="-25.9" font-size="9px" text-anchor="middle" font-weight="bold">30</text>
<text x="6.5" y="-29" font-size="9px" text-anchor="middle" font-weight="bold">50</text>
<text x="23.9" y="-19.1" font-size="9px" text-anchor="middle" font-weight="bold">60</text>
<text x="31.3" y="-5" font-size="9px" text-anchor="middle" font-weight="bold">70</text>
<text x="28.6" y="17" font-size="9px" text-anchor="middle" font-weight="bold">50</text>
<text x="17.9" y="30.9" font-size="9px" text-anchor="middle" font-weight="bold">50</text>
<text x="-0.9" y="20.3" font-size="9px" text-anchor="middle" font-weight="bold">°C</text>
<circle cx="0.5" cy="0.5" r="11.3" fill="#fff" stroke="#000" stroke-width="0.8" vector-effect="non-scaling-stroke" />
<circle cx="-30.6" cy="-4.5" r="5.5" fill="#fff" stroke="#000" stroke-width="0.8" vector-effect="non-scaling-stroke" />
<circle cx="32" cy="6.4" r="5.5" fill="#fff" stroke="#000" stroke-width="0.8" vector-effect="non-scaling-stroke" />
<path d="M-10.5,6 L-38,25.5 M-9,8.2 L-36.5,27.7" fill="none" stroke="#000" stroke-width="0.8" stroke-linejoin="round" vector-effect="non-scaling-stroke" />
</g>
<g transform="matrix(0.37,-0.21,0,0.43,1297.9,252.2)">
<path d="M7.98,-23.98 A22.6,22.6 0 0 0 -23.98,7.98 L-15.98,15.98 A22.6,22.6 0 1 0 15.98,-15.98 Z" fill="#fff" stroke="#000" stroke-width="1.2" stroke-linejoin="round" vector-effect="non-scaling-stroke"/>
<circle cx="0" cy="0" r="22.6" fill="none" stroke="#000" stroke-width="0.8" vector-effect="non-scaling-stroke" />
<circle cx="0" cy="0" r="17.3" fill="none" stroke="#000" stroke-width="0.8" vector-effect="non-scaling-stroke" />
<circle cx="0.5" cy="0.5" r="14.3" fill="none" stroke="#000" stroke-width="0.8" vector-effect="non-scaling-stroke" />
</g>
<g transform="matrix(0.37,-0.21,0,0.43,1226.6,293.2)">
<path d="M7.98,-23.98 A22.6,22.6 0 0 0 -23.98,7.98 L-15.98,15.98 A22.6,22.6 0 1 0 15.98,-15.98 Z" fill="#fff" stroke="#000" stroke-width="1.2" stroke-linejoin="round" vector-effect="non-scaling-stroke"/>
<circle cx="0" cy="0" r="22.6" fill="none" stroke="#000" stroke-width="0.8" vector-effect="non-scaling-stroke" />
<circle cx="0" cy="0" r="17.3" fill="none" stroke="#000" stroke-width="0.8" vector-effect="non-scaling-stroke" />
<circle cx="0.5" cy="0.5" r="14.3" fill="none" stroke="#000" stroke-width="0.8" vector-effect="non-scaling-stroke" />
</g>
<g transform="matrix(0.37,-0.21,0,0.43,1262.3,310.4)">
<path d="M7.98,-23.98 A22.6,22.6 0 0 0 -23.98,7.98 L-15.98,15.98 A22.6,22.6 0 1 0 15.98,-15.98 Z" fill="#fff" stroke="#000" stroke-width="1.2" stroke-linejoin="round" vector-effect="non-scaling-stroke"/>
<circle cx="0" cy="0" r="22.6" fill="none" stroke="#000" stroke-width="0.8" vector-effect="non-scaling-stroke" />
<circle cx="0" cy="0" r="17.3" fill="none" stroke="#000" stroke-width="0.8" vector-effect="non-scaling-stroke" />
<circle cx="0.5" cy="0.5" r="14.3" fill="none" stroke="#000" stroke-width="0.8" vector-effect="non-scaling-stroke" />
</g>
<path d="M1277.5,303.5 L1277.5,297.5 L1283,290.5 L1303.3,276.2 L1307.6,279.5 L1307.6,297.6 L1290.5,307.6 L1285,307.8 L1280,306 Z" fill="#fff" stroke="#000" stroke-width="1.4" stroke-linejoin="round" vector-effect="non-scaling-stroke" />
<path d="M1279.8,297 L1304.5,279.8 M1282,299 L1307.6,282.3 M1280,299 L1280,305 M1282.2,300.5 L1282.2,306.5" fill="none" stroke="#000" stroke-width="1" stroke-linejoin="round" vector-effect="non-scaling-stroke" />
<g transform="matrix(0.54,-0.31,0,0.62,1292.3,296.8)">
<circle cx="0" cy="0" r="9.5" fill="#fff" stroke="#000" stroke-width="1.3" vector-effect="non-scaling-stroke" />
<circle cx="0" cy="0" r="5" fill="#000" stroke="none" stroke-width="0" vector-effect="non-scaling-stroke" />
</g>
<path d="M321,67 h2 v16 h-2 Z M321.5,67 L321.5,69.6 L317,74 L317,71.4 Z" fill="#000"/>
<text x="0" y="0" font-size="22.5px" transform="translate(327,83.8) scale(1.0,1.1)">4</text>
<text x="0" y="0" font-size="22.5px" transform="translate(562,148.8) scale(1.0,1.1)">9</text>
<text x="0" y="0" font-size="22.5px" transform="translate(888,180.8) scale(1.0,1.1)">2</text>
<text x="0" y="0" font-size="22.5px" transform="translate(364,264.8) scale(1.0,1.1)">8</text>
<path d="M1283,373 h2 v16 h-2 Z M1283.5,373 L1283.5,375.6 L1279,380 L1279,377.4 Z" fill="#000"/>
<text x="0" y="0" font-size="22.5px" transform="translate(122,479.8) scale(1.0,1.1)">7</text>
<path d="M773,449 h2 v16 h-2 Z M773.5,449 L773.5,451.6 L769,456 L769,453.4 Z" fill="#000"/>
<text x="0" y="0" font-size="22.5px" transform="translate(779,465.8) scale(1.0,1.1)">3</text>
<path d="M685,500 h2 v16 h-2 Z M685.5,500 L685.5,502.6 L681,507 L681,504.4 Z" fill="#000"/>
<text x="0" y="0" font-size="22.5px" transform="translate(691,516.8) scale(1.0,1.1)">2</text>
<path d="M593,545 h2 v16 h-2 Z M593.5,545 L593.5,547.6 L589,552 L589,549.4 Z" fill="#000"/>
<path d="M605,545 h2 v16 h-2 Z M605.5,545 L605.5,547.6 L601,552 L601,549.4 Z" fill="#000"/>
<text x="0" y="0" font-size="22.5px" transform="translate(419,573.8) scale(1.0,1.1)">4</text>
<path d="M545,609 h2 v16 h-2 Z M545.5,609 L545.5,611.6 L541,616 L541,613.4 Z" fill="#000"/>
<text x="0" y="0" font-size="22.5px" transform="translate(551,625.8) scale(1.0,1.1)">0</text>
<text x="0" y="0" font-size="22.5px" transform="translate(197,636.8) scale(1.0,1.1)">5</text>
<text x="0" y="0" font-size="22.5px" transform="translate(1132,725.8) scale(1.0,1.1)">3</text>
<text x="0" y="0" font-size="22.5px" transform="translate(885,843.8) scale(1.0,1.1)">6</text>
</svg>
</body></html>
